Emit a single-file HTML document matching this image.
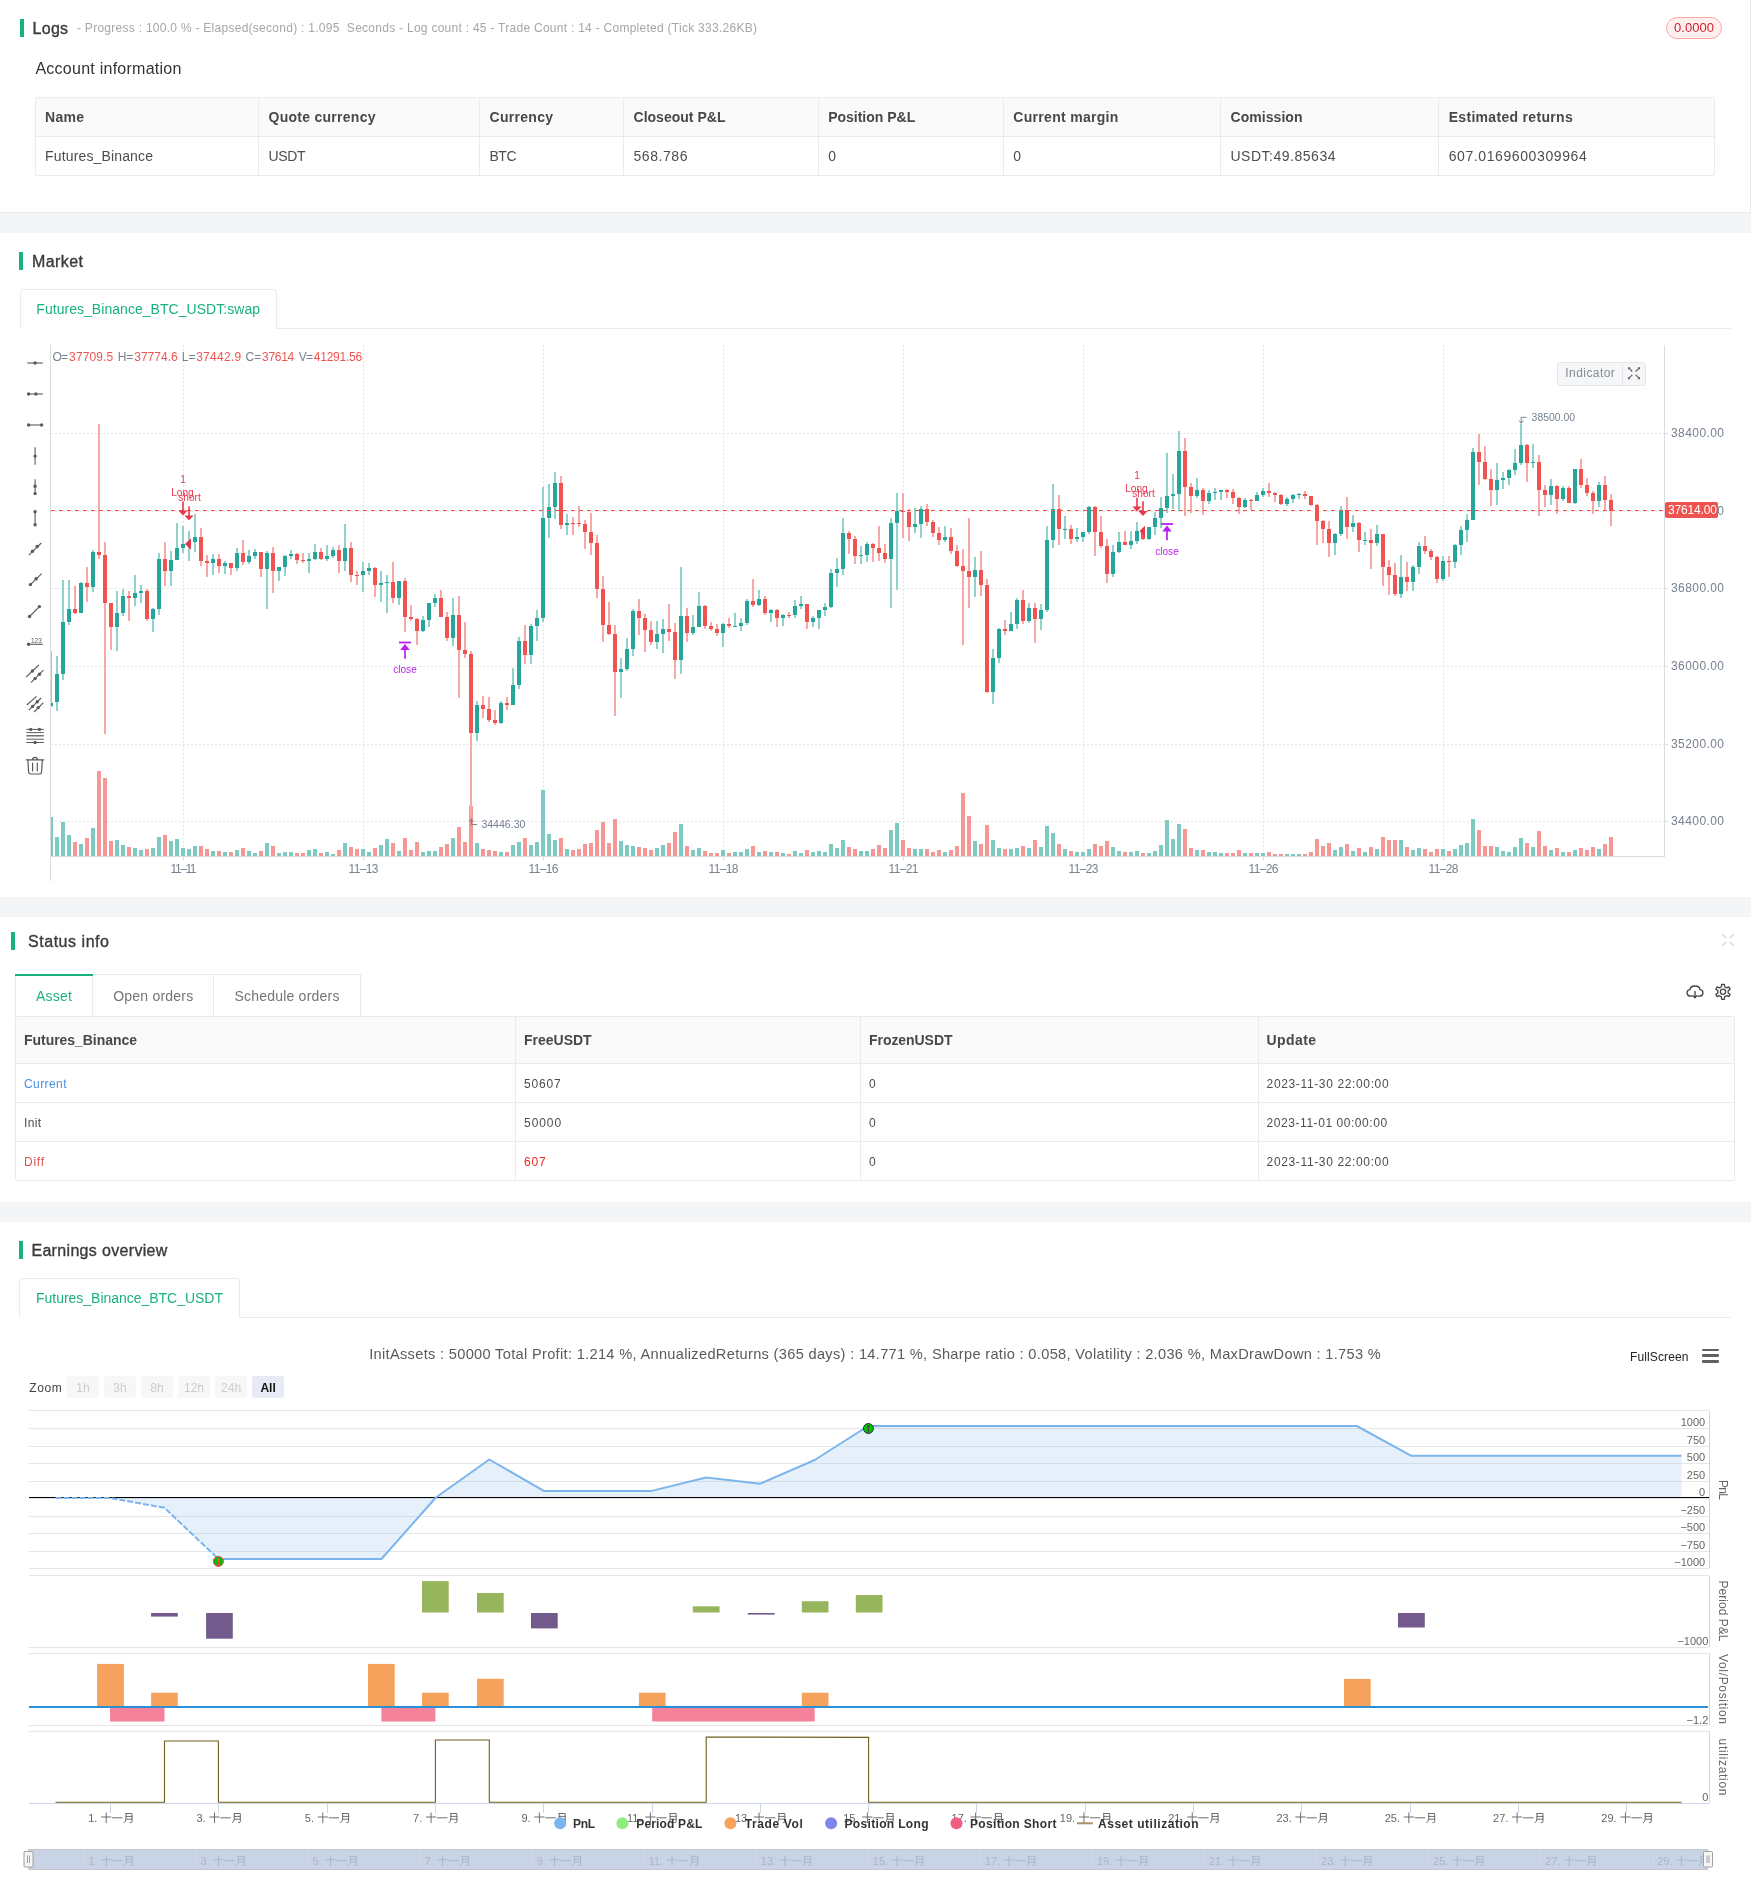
<!DOCTYPE html>
<html lang="en"><head><meta charset="utf-8"><title>Backtest result</title>
<style>html,body{margin:0;padding:0;background:#fff}body{position:relative;width:1751px;height:1899px;overflow:hidden;font-family:"Liberation Sans", sans-serif;color:#444}svg{position:absolute;left:0;top:0;overflow:visible}svg text{font-family:"Liberation Sans", sans-serif}</style>
</head><body><div id="page" style="position:absolute;left:0;top:0;width:1751px;height:1899px;will-change:transform">
<div style="position:absolute;left:0px;top:212px;width:1751px;height:21px;background:#f4f5f7;border-top:1px solid #ececec;box-sizing:border-box"></div>
<div style="position:absolute;left:0px;top:897px;width:1751px;height:20px;background:#f4f5f7"></div>
<div style="position:absolute;left:0px;top:1202px;width:1751px;height:20px;background:#f4f5f7"></div>
<div style="position:absolute;left:1750px;top:0px;width:1px;height:212px;background:#ececec"></div>
<div style="position:absolute;left:20px;top:19px;width:4px;height:18px;background:#19b27f"></div>
<span style="position:absolute;left:32.6px;top:20px;font-size:16px;line-height:17px;color:#3a3a3a;white-space:nowrap;letter-spacing:0.268px;-webkit-text-stroke:0.35px #3a3a3a;">Logs</span>
<span style="position:absolute;left:77px;top:21px;font-size:12px;line-height:14px;color:#a6a6a6;white-space:nowrap;letter-spacing:0.272px;">- Progress : 100.0 % - Elapsed(second) : 1.095 &nbsp;Seconds - Log count : 45 - Trade Count : 14 - Completed (Tick 333.26KB)</span>
<div style="position:absolute;left:1666px;top:17px;width:56px;height:22px;box-sizing:border-box;border:1px solid #ffa8a3;background:#fff0ef;border-radius:11px"></div>
<span style="position:absolute;left:1694.02px;top:20px;font-size:13px;line-height:15px;color:#cf2330;white-space:nowrap;letter-spacing:0.047px;transform:translateX(-50%);">0.0000</span>
<span style="position:absolute;left:35.4px;top:60px;font-size:16px;line-height:17px;color:#333;white-space:nowrap;letter-spacing:0.255px;">Account information</span>
<div style="position:absolute;left:35px;top:97px;width:1680px;height:79px;box-sizing:border-box;border:1px solid #ebebeb;border-radius:2px"></div>
<div style="position:absolute;left:36px;top:98px;width:1678px;height:38px;background:#fafafa"></div>
<div style="position:absolute;left:35px;top:136px;width:1680px;height:1px;background:#ebebeb"></div>
<div style="position:absolute;left:258px;top:97px;width:1px;height:79px;background:#ebebeb"></div>
<div style="position:absolute;left:479px;top:97px;width:1px;height:79px;background:#ebebeb"></div>
<div style="position:absolute;left:623px;top:97px;width:1px;height:79px;background:#ebebeb"></div>
<div style="position:absolute;left:818px;top:97px;width:1px;height:79px;background:#ebebeb"></div>
<div style="position:absolute;left:1003px;top:97px;width:1px;height:79px;background:#ebebeb"></div>
<div style="position:absolute;left:1220px;top:97px;width:1px;height:79px;background:#ebebeb"></div>
<div style="position:absolute;left:1438px;top:97px;width:1px;height:79px;background:#ebebeb"></div>
<span style="position:absolute;left:45px;top:109px;font-size:14px;line-height:16px;color:#484848;white-space:nowrap;font-weight:bold;letter-spacing:0.290px;">Name</span>
<span style="position:absolute;left:268.5px;top:109px;font-size:14px;line-height:16px;color:#484848;white-space:nowrap;font-weight:bold;letter-spacing:0.271px;">Quote currency</span>
<span style="position:absolute;left:489.5px;top:109px;font-size:14px;line-height:16px;color:#484848;white-space:nowrap;font-weight:bold;letter-spacing:0.290px;">Currency</span>
<span style="position:absolute;left:633.5px;top:109px;font-size:14px;line-height:16px;color:#484848;white-space:nowrap;font-weight:bold;letter-spacing:0.020px;">Closeout P&amp;L</span>
<span style="position:absolute;left:828.2px;top:109px;font-size:14px;line-height:16px;color:#484848;white-space:nowrap;font-weight:bold;letter-spacing:-0.010px;">Position P&amp;L</span>
<span style="position:absolute;left:1013.3px;top:109px;font-size:14px;line-height:16px;color:#484848;white-space:nowrap;font-weight:bold;letter-spacing:0.298px;">Current margin</span>
<span style="position:absolute;left:1230.5px;top:109px;font-size:14px;line-height:16px;color:#484848;white-space:nowrap;font-weight:bold;letter-spacing:0.054px;">Comission</span>
<span style="position:absolute;left:1448.7px;top:109px;font-size:14px;line-height:16px;color:#484848;white-space:nowrap;font-weight:bold;letter-spacing:0.310px;">Estimated returns</span>
<span style="position:absolute;left:45px;top:148px;font-size:14px;line-height:16px;color:#4d4d4d;white-space:nowrap;letter-spacing:0.154px;">Futures_Binance</span>
<span style="position:absolute;left:268.5px;top:148px;font-size:14px;line-height:16px;color:#4d4d4d;white-space:nowrap;letter-spacing:-0.370px;">USDT</span>
<span style="position:absolute;left:489.5px;top:148px;font-size:14px;line-height:16px;color:#4d4d4d;white-space:nowrap;letter-spacing:-0.500px;">BTC</span>
<span style="position:absolute;left:633.5px;top:148px;font-size:14px;line-height:16px;color:#4d4d4d;white-space:nowrap;letter-spacing:0.566px;">568.786</span>
<span style="position:absolute;left:828.2px;top:148px;font-size:14px;line-height:16px;color:#4d4d4d;white-space:nowrap;">0</span>
<span style="position:absolute;left:1013.3px;top:148px;font-size:14px;line-height:16px;color:#4d4d4d;white-space:nowrap;">0</span>
<span style="position:absolute;left:1230.5px;top:148px;font-size:14px;line-height:16px;color:#4d4d4d;white-space:nowrap;letter-spacing:0.513px;">USDT:49.85634</span>
<span style="position:absolute;left:1448.7px;top:148px;font-size:14px;line-height:16px;color:#4d4d4d;white-space:nowrap;letter-spacing:0.596px;">607.0169600309964</span>
<div style="position:absolute;left:19px;top:252px;width:4px;height:18px;background:#19b27f"></div>
<span style="position:absolute;left:32px;top:253px;font-size:16px;line-height:17px;color:#3a3a3a;white-space:nowrap;letter-spacing:0.420px;-webkit-text-stroke:0.35px #3a3a3a;">Market</span>
<div style="position:absolute;left:276.5px;top:328px;width:1454.5px;height:1px;background:#ebebeb"></div>
<div style="position:absolute;left:19.5px;top:289px;width:257.5px;height:40px;box-sizing:border-box;border:1px solid #ebebeb;border-bottom:none;border-radius:4px 4px 0 0;background:#fff"></div>
<span style="position:absolute;left:36.3px;top:301px;font-size:14px;line-height:16px;color:#19b27f;white-space:nowrap;letter-spacing:0.041px;">Futures_Binance_BTC_USDT:swap</span>
<div style="position:absolute;left:11px;top:932px;width:4px;height:18px;background:#19b27f"></div>
<span style="position:absolute;left:28px;top:933px;font-size:16px;line-height:17px;color:#3a3a3a;white-space:nowrap;letter-spacing:0.540px;-webkit-text-stroke:0.35px #3a3a3a;">Status info</span>
<div style="position:absolute;left:15px;top:974px;width:78px;height:43px;box-sizing:border-box;border:1px solid #ebebeb;background:#fff"></div>
<div style="position:absolute;left:92px;top:974px;width:122px;height:43px;box-sizing:border-box;border:1px solid #ebebeb;background:#fff"></div>
<div style="position:absolute;left:213px;top:974px;width:148px;height:43px;box-sizing:border-box;border:1px solid #ebebeb;background:#fff"></div>
<div style="position:absolute;left:15px;top:974px;width:78px;height:2px;background:#19b27f"></div>
<div style="position:absolute;left:16px;top:1016px;width:76px;height:1px;background:#fff"></div>
<span style="position:absolute;left:36px;top:988px;font-size:14px;line-height:16px;color:#19b27f;white-space:nowrap;letter-spacing:0.247px;">Asset</span>
<span style="position:absolute;left:113.2px;top:988px;font-size:14px;line-height:16px;color:#747474;white-space:nowrap;letter-spacing:0.218px;">Open orders</span>
<span style="position:absolute;left:234.4px;top:988px;font-size:14px;line-height:16px;color:#747474;white-space:nowrap;letter-spacing:0.218px;">Schedule orders</span>
<div style="position:absolute;left:15px;top:1016px;width:1720px;height:165px;box-sizing:border-box;border:1px solid #ebebeb;border-radius:2px"></div>
<div style="position:absolute;left:16px;top:1017px;width:1718px;height:46px;background:#fafafa"></div>
<div style="position:absolute;left:15px;top:1063px;width:1720px;height:1px;background:#ebebeb"></div>
<div style="position:absolute;left:15px;top:1102px;width:1720px;height:1px;background:#ebebeb"></div>
<div style="position:absolute;left:15px;top:1141px;width:1720px;height:1px;background:#ebebeb"></div>
<div style="position:absolute;left:515px;top:1016px;width:1px;height:165px;background:#ebebeb"></div>
<div style="position:absolute;left:860px;top:1016px;width:1px;height:165px;background:#ebebeb"></div>
<div style="position:absolute;left:1258px;top:1016px;width:1px;height:165px;background:#ebebeb"></div>
<span style="position:absolute;left:24px;top:1032px;font-size:14px;line-height:16px;color:#484848;white-space:nowrap;font-weight:bold;letter-spacing:-0.042px;">Futures_Binance</span>
<span style="position:absolute;left:524.1px;top:1032px;font-size:14px;line-height:16px;color:#484848;white-space:nowrap;font-weight:bold;letter-spacing:-0.026px;">FreeUSDT</span>
<span style="position:absolute;left:869px;top:1032px;font-size:14px;line-height:16px;color:#484848;white-space:nowrap;font-weight:bold;letter-spacing:-0.056px;">FrozenUSDT</span>
<span style="position:absolute;left:1266.6px;top:1032px;font-size:14px;line-height:16px;color:#484848;white-space:nowrap;font-weight:bold;letter-spacing:0.410px;">Update</span>
<span style="position:absolute;left:24px;top:1077px;font-size:12px;line-height:14px;color:#4a90e2;white-space:nowrap;letter-spacing:0.414px;">Current</span>
<span style="position:absolute;left:524.1px;top:1077px;font-size:12px;line-height:14px;color:#4d4d4d;white-space:nowrap;letter-spacing:0.783px;">50607</span>
<span style="position:absolute;left:869px;top:1077px;font-size:12px;line-height:14px;color:#4d4d4d;white-space:nowrap;">0</span>
<span style="position:absolute;left:1266.6px;top:1077px;font-size:12px;line-height:14px;color:#4d4d4d;white-space:nowrap;letter-spacing:0.637px;">2023-11-30 22:00:00</span>
<span style="position:absolute;left:24px;top:1116px;font-size:12px;line-height:14px;color:#4d4d4d;white-space:nowrap;letter-spacing:0.331px;">Init</span>
<span style="position:absolute;left:524.1px;top:1116px;font-size:12px;line-height:14px;color:#4d4d4d;white-space:nowrap;letter-spacing:0.908px;">50000</span>
<span style="position:absolute;left:869px;top:1116px;font-size:12px;line-height:14px;color:#4d4d4d;white-space:nowrap;">0</span>
<span style="position:absolute;left:1266.6px;top:1116px;font-size:12px;line-height:14px;color:#4d4d4d;white-space:nowrap;letter-spacing:0.553px;">2023-11-01 00:00:00</span>
<span style="position:absolute;left:24px;top:1155px;font-size:12px;line-height:14px;color:#d9534f;white-space:nowrap;letter-spacing:0.739px;">Diff</span>
<span style="position:absolute;left:524.1px;top:1155px;font-size:12px;line-height:14px;color:#f02525;white-space:nowrap;letter-spacing:0.739px;">607</span>
<span style="position:absolute;left:869px;top:1155px;font-size:12px;line-height:14px;color:#4d4d4d;white-space:nowrap;">0</span>
<span style="position:absolute;left:1266.6px;top:1155px;font-size:12px;line-height:14px;color:#4d4d4d;white-space:nowrap;letter-spacing:0.637px;">2023-11-30 22:00:00</span>
<div style="position:absolute;left:19px;top:1241px;width:4px;height:18px;background:#19b27f"></div>
<span style="position:absolute;left:31.4px;top:1242px;font-size:16px;line-height:17px;color:#3a3a3a;white-space:nowrap;letter-spacing:0.330px;-webkit-text-stroke:0.35px #3a3a3a;">Earnings overview</span>
<div style="position:absolute;left:239.5px;top:1317px;width:1491.5px;height:1px;background:#ebebeb"></div>
<div style="position:absolute;left:19px;top:1278px;width:220.5px;height:40px;box-sizing:border-box;border:1px solid #ebebeb;border-bottom:none;border-radius:4px 4px 0 0;background:#fff"></div>
<span style="position:absolute;left:36px;top:1290px;font-size:14px;line-height:16px;color:#19b27f;white-space:nowrap;letter-spacing:-0.023px;">Futures_Binance_BTC_USDT</span>
<svg width="1751" height="1899" viewBox="0 0 1751 1899" shape-rendering="crispEdges">
<line x1="51" y1="433.5" x2="1664" y2="433.5" stroke="#e4e4e4" stroke-width="1" stroke-dasharray="2 2"/>
<line x1="51" y1="588.5" x2="1664" y2="588.5" stroke="#e4e4e4" stroke-width="1" stroke-dasharray="2 2"/>
<line x1="51" y1="666.5" x2="1664" y2="666.5" stroke="#e4e4e4" stroke-width="1" stroke-dasharray="2 2"/>
<line x1="51" y1="744.5" x2="1664" y2="744.5" stroke="#e4e4e4" stroke-width="1" stroke-dasharray="2 2"/>
<line x1="51" y1="821.5" x2="1664" y2="821.5" stroke="#e4e4e4" stroke-width="1" stroke-dasharray="2 2"/>
<line x1="51" y1="511.5" x2="1664" y2="511.5" stroke="#e4e4e4" stroke-width="1" stroke-dasharray="2 2"/>
<line x1="183.5" y1="345" x2="183.5" y2="856" stroke="#e4e4e4" stroke-width="1" stroke-dasharray="2 2"/>
<line x1="183.5" y1="856" x2="183.5" y2="860" stroke="#dcdcdc" stroke-width="1"/>
<line x1="363.5" y1="345" x2="363.5" y2="856" stroke="#e4e4e4" stroke-width="1" stroke-dasharray="2 2"/>
<line x1="363.5" y1="856" x2="363.5" y2="860" stroke="#dcdcdc" stroke-width="1"/>
<line x1="543.5" y1="345" x2="543.5" y2="856" stroke="#e4e4e4" stroke-width="1" stroke-dasharray="2 2"/>
<line x1="543.5" y1="856" x2="543.5" y2="860" stroke="#dcdcdc" stroke-width="1"/>
<line x1="723.5" y1="345" x2="723.5" y2="856" stroke="#e4e4e4" stroke-width="1" stroke-dasharray="2 2"/>
<line x1="723.5" y1="856" x2="723.5" y2="860" stroke="#dcdcdc" stroke-width="1"/>
<line x1="903.5" y1="345" x2="903.5" y2="856" stroke="#e4e4e4" stroke-width="1" stroke-dasharray="2 2"/>
<line x1="903.5" y1="856" x2="903.5" y2="860" stroke="#dcdcdc" stroke-width="1"/>
<line x1="1083.5" y1="345" x2="1083.5" y2="856" stroke="#e4e4e4" stroke-width="1" stroke-dasharray="2 2"/>
<line x1="1083.5" y1="856" x2="1083.5" y2="860" stroke="#dcdcdc" stroke-width="1"/>
<line x1="1263.5" y1="345" x2="1263.5" y2="856" stroke="#e4e4e4" stroke-width="1" stroke-dasharray="2 2"/>
<line x1="1263.5" y1="856" x2="1263.5" y2="860" stroke="#dcdcdc" stroke-width="1"/>
<line x1="1443.5" y1="345" x2="1443.5" y2="856" stroke="#e4e4e4" stroke-width="1" stroke-dasharray="2 2"/>
<line x1="1443.5" y1="856" x2="1443.5" y2="860" stroke="#dcdcdc" stroke-width="1"/>
<clipPath id="kc"><rect x="51" y="345" width="1613" height="511"/></clipPath>
<g clip-path="url(#kc)">
<rect x="49" y="816.94" width="4" height="39.06" fill="#7dcac2"/>
<rect x="50" y="650.72" width="2" height="56.54" fill="#92d2cc"/>
<rect x="49" y="702.63" width="4" height="3.77" fill="#26a69a"/>
<rect x="55" y="837.04" width="4" height="18.96" fill="#7dcac2"/>
<rect x="56" y="656.2" width="2" height="54.48" fill="#92d2cc"/>
<rect x="55" y="673.85" width="4" height="27.93" fill="#26a69a"/>
<rect x="61" y="821.73" width="4" height="34.27" fill="#7dcac2"/>
<rect x="62" y="579.96" width="2" height="99.89" fill="#92d2cc"/>
<rect x="61" y="621.93" width="4" height="51.91" fill="#26a69a"/>
<rect x="67" y="834.75" width="4" height="21.25" fill="#7dcac2"/>
<rect x="68" y="579.96" width="2" height="44.72" fill="#92d2cc"/>
<rect x="67" y="609.09" width="4" height="12.85" fill="#26a69a"/>
<rect x="73" y="842.29" width="4" height="13.71" fill="#f59795"/>
<rect x="74" y="585.96" width="2" height="27.93" fill="#f7a9a7"/>
<rect x="73" y="609.09" width="4" height="3.94" fill="#ef5350"/>
<rect x="79" y="843.89" width="4" height="12.11" fill="#7dcac2"/>
<rect x="80" y="581.84" width="2" height="31.18" fill="#92d2cc"/>
<rect x="79" y="583.04" width="4" height="29.64" fill="#26a69a"/>
<rect x="85" y="837.5" width="4" height="18.5" fill="#f59795"/>
<rect x="86" y="566.94" width="2" height="34.95" fill="#f7a9a7"/>
<rect x="85" y="583.04" width="4" height="3.94" fill="#ef5350"/>
<rect x="91" y="828.36" width="4" height="27.64" fill="#7dcac2"/>
<rect x="92" y="550.15" width="2" height="41.8" fill="#92d2cc"/>
<rect x="91" y="551.86" width="4" height="34.95" fill="#26a69a"/>
<rect x="97" y="770.56" width="4" height="85.44" fill="#f59795"/>
<rect x="98" y="424.05" width="2" height="135.01" fill="#f7a9a7"/>
<rect x="97" y="551.86" width="4" height="2.91" fill="#ef5350"/>
<rect x="103" y="778.1" width="4" height="77.9" fill="#f59795"/>
<rect x="104" y="541.92" width="2" height="191.89" fill="#f7a9a7"/>
<rect x="103" y="554.77" width="4" height="47.97" fill="#ef5350"/>
<rect x="109" y="840.92" width="4" height="15.08" fill="#f59795"/>
<rect x="110" y="602.75" width="2" height="47.12" fill="#f7a9a7"/>
<rect x="109" y="602.75" width="4" height="24.33" fill="#ef5350"/>
<rect x="115" y="839.78" width="4" height="16.22" fill="#7dcac2"/>
<rect x="116" y="591.1" width="2" height="59.62" fill="#92d2cc"/>
<rect x="115" y="613.03" width="4" height="14.05" fill="#26a69a"/>
<rect x="121" y="844.81" width="4" height="11.19" fill="#7dcac2"/>
<rect x="122" y="589.04" width="2" height="26.56" fill="#92d2cc"/>
<rect x="121" y="596.24" width="4" height="16.79" fill="#26a69a"/>
<rect x="127" y="846.63" width="4" height="9.37" fill="#f59795"/>
<rect x="128" y="590.75" width="2" height="30.33" fill="#f7a9a7"/>
<rect x="127" y="596.24" width="4" height="1.71" fill="#ef5350"/>
<rect x="133" y="847.78" width="4" height="8.22" fill="#7dcac2"/>
<rect x="134" y="574.99" width="2" height="30.84" fill="#92d2cc"/>
<rect x="133" y="592.98" width="4" height="4.97" fill="#26a69a"/>
<rect x="139" y="849.83" width="4" height="6.17" fill="#7dcac2"/>
<rect x="140" y="584.76" width="2" height="17.99" fill="#92d2cc"/>
<rect x="139" y="591.1" width="4" height="1.88" fill="#26a69a"/>
<rect x="145" y="848.92" width="4" height="7.08" fill="#f59795"/>
<rect x="146" y="589.04" width="2" height="32.04" fill="#f7a9a7"/>
<rect x="145" y="591.1" width="4" height="27.93" fill="#ef5350"/>
<rect x="151" y="847.78" width="4" height="8.22" fill="#7dcac2"/>
<rect x="152" y="607.89" width="2" height="23.99" fill="#92d2cc"/>
<rect x="151" y="608.74" width="4" height="10.28" fill="#26a69a"/>
<rect x="157" y="836.81" width="4" height="19.19" fill="#7dcac2"/>
<rect x="158" y="553.06" width="2" height="61.68" fill="#92d2cc"/>
<rect x="157" y="559.06" width="4" height="49.69" fill="#26a69a"/>
<rect x="163" y="834.53" width="4" height="21.47" fill="#f59795"/>
<rect x="164" y="541.92" width="2" height="44.03" fill="#f7a9a7"/>
<rect x="163" y="559.06" width="4" height="11.65" fill="#ef5350"/>
<rect x="169" y="840.92" width="4" height="15.08" fill="#7dcac2"/>
<rect x="170" y="551" width="2" height="34.95" fill="#92d2cc"/>
<rect x="169" y="560.08" width="4" height="10.62" fill="#26a69a"/>
<rect x="175" y="838.87" width="4" height="17.13" fill="#7dcac2"/>
<rect x="176" y="523.08" width="2" height="37.01" fill="#92d2cc"/>
<rect x="175" y="547.92" width="4" height="12.16" fill="#26a69a"/>
<rect x="181" y="848.46" width="4" height="7.54" fill="#7dcac2"/>
<rect x="182" y="525.99" width="2" height="26.56" fill="#92d2cc"/>
<rect x="181" y="544.15" width="4" height="3.77" fill="#26a69a"/>
<rect x="187" y="848.92" width="4" height="7.08" fill="#7dcac2"/>
<rect x="188" y="530.79" width="2" height="29.98" fill="#92d2cc"/>
<rect x="187" y="541.92" width="4" height="2.23" fill="#26a69a"/>
<rect x="193" y="845.95" width="4" height="10.05" fill="#7dcac2"/>
<rect x="194" y="514" width="2" height="37.86" fill="#92d2cc"/>
<rect x="193" y="537.13" width="4" height="4.8" fill="#26a69a"/>
<rect x="199" y="845.95" width="4" height="10.05" fill="#f59795"/>
<rect x="200" y="528.22" width="2" height="37.69" fill="#f7a9a7"/>
<rect x="199" y="537.13" width="4" height="23.64" fill="#ef5350"/>
<rect x="205" y="848.92" width="4" height="7.08" fill="#f59795"/>
<rect x="206" y="555.12" width="2" height="21.59" fill="#f7a9a7"/>
<rect x="205" y="561.11" width="4" height="1.71" fill="#ef5350"/>
<rect x="211" y="850.97" width="4" height="5.03" fill="#7dcac2"/>
<rect x="212" y="553.92" width="2" height="20.9" fill="#92d2cc"/>
<rect x="211" y="559.06" width="4" height="3.77" fill="#26a69a"/>
<rect x="217" y="851.43" width="4" height="4.57" fill="#f59795"/>
<rect x="218" y="553.92" width="2" height="18.85" fill="#f7a9a7"/>
<rect x="217" y="559.06" width="4" height="6.85" fill="#ef5350"/>
<rect x="223" y="851.66" width="4" height="4.34" fill="#7dcac2"/>
<rect x="224" y="561.11" width="2" height="12.85" fill="#92d2cc"/>
<rect x="223" y="563" width="4" height="2.91" fill="#26a69a"/>
<rect x="229" y="852.12" width="4" height="3.88" fill="#f59795"/>
<rect x="230" y="563" width="2" height="11.82" fill="#f7a9a7"/>
<rect x="229" y="563" width="4" height="4.8" fill="#ef5350"/>
<rect x="235" y="850.06" width="4" height="5.94" fill="#7dcac2"/>
<rect x="236" y="547.92" width="2" height="23.13" fill="#92d2cc"/>
<rect x="235" y="553.06" width="4" height="14.73" fill="#26a69a"/>
<rect x="241" y="848.23" width="4" height="7.77" fill="#f59795"/>
<rect x="242" y="540.21" width="2" height="24.5" fill="#f7a9a7"/>
<rect x="241" y="553.06" width="4" height="8.91" fill="#ef5350"/>
<rect x="247" y="850.97" width="4" height="5.03" fill="#7dcac2"/>
<rect x="248" y="549.98" width="2" height="13.88" fill="#92d2cc"/>
<rect x="247" y="555.97" width="4" height="6" fill="#26a69a"/>
<rect x="253" y="853.03" width="4" height="2.97" fill="#7dcac2"/>
<rect x="254" y="549.12" width="2" height="9.59" fill="#92d2cc"/>
<rect x="253" y="551.86" width="4" height="4.11" fill="#26a69a"/>
<rect x="259" y="850.75" width="4" height="5.25" fill="#f59795"/>
<rect x="260" y="551.86" width="2" height="24.84" fill="#f7a9a7"/>
<rect x="259" y="551.86" width="4" height="16.96" fill="#ef5350"/>
<rect x="265" y="843.44" width="4" height="12.56" fill="#7dcac2"/>
<rect x="266" y="550.83" width="2" height="57.91" fill="#92d2cc"/>
<rect x="265" y="553.06" width="4" height="15.76" fill="#26a69a"/>
<rect x="271" y="846.18" width="4" height="9.82" fill="#f59795"/>
<rect x="272" y="547.06" width="2" height="45.92" fill="#f7a9a7"/>
<rect x="271" y="553.06" width="4" height="17.65" fill="#ef5350"/>
<rect x="277" y="852.8" width="4" height="3.2" fill="#7dcac2"/>
<rect x="278" y="566.77" width="2" height="14.05" fill="#92d2cc"/>
<rect x="277" y="567.11" width="4" height="3.6" fill="#26a69a"/>
<rect x="283" y="851.89" width="4" height="4.11" fill="#7dcac2"/>
<rect x="284" y="555.29" width="2" height="20.56" fill="#92d2cc"/>
<rect x="283" y="555.97" width="4" height="11.14" fill="#26a69a"/>
<rect x="289" y="851.89" width="4" height="4.11" fill="#7dcac2"/>
<rect x="290" y="549.98" width="2" height="8.74" fill="#92d2cc"/>
<rect x="289" y="554.26" width="4" height="1.71" fill="#26a69a"/>
<rect x="295" y="852.8" width="4" height="3.2" fill="#f59795"/>
<rect x="296" y="553.06" width="2" height="10.79" fill="#f7a9a7"/>
<rect x="295" y="554.26" width="4" height="5.65" fill="#ef5350"/>
<rect x="301" y="853.03" width="4" height="2.97" fill="#f59795"/>
<rect x="302" y="553.06" width="2" height="9.77" fill="#f7a9a7"/>
<rect x="301" y="559.91" width="4" height="1.2" fill="#ef5350"/>
<rect x="307" y="850.29" width="4" height="5.71" fill="#7dcac2"/>
<rect x="308" y="553.06" width="2" height="19.7" fill="#92d2cc"/>
<rect x="307" y="559.06" width="4" height="2.06" fill="#26a69a"/>
<rect x="313" y="849.15" width="4" height="6.85" fill="#7dcac2"/>
<rect x="314" y="543.98" width="2" height="15.93" fill="#92d2cc"/>
<rect x="313" y="551.86" width="4" height="7.2" fill="#26a69a"/>
<rect x="319" y="853.03" width="4" height="2.97" fill="#f59795"/>
<rect x="320" y="547.92" width="2" height="11.99" fill="#f7a9a7"/>
<rect x="319" y="551.86" width="4" height="6.85" fill="#ef5350"/>
<rect x="325" y="851.89" width="4" height="4.11" fill="#7dcac2"/>
<rect x="326" y="545.01" width="2" height="15.76" fill="#92d2cc"/>
<rect x="325" y="555.97" width="4" height="2.74" fill="#26a69a"/>
<rect x="331" y="853.72" width="4" height="2.28" fill="#7dcac2"/>
<rect x="332" y="547.06" width="2" height="10.79" fill="#92d2cc"/>
<rect x="331" y="549.98" width="4" height="6" fill="#26a69a"/>
<rect x="337" y="849.83" width="4" height="6.17" fill="#f59795"/>
<rect x="338" y="545.06" width="2" height="27.76" fill="#f7a9a7"/>
<rect x="337" y="550.03" width="4" height="10.79" fill="#ef5350"/>
<rect x="343" y="843.44" width="4" height="12.56" fill="#7dcac2"/>
<rect x="344" y="523.99" width="2" height="46.77" fill="#92d2cc"/>
<rect x="343" y="547.97" width="4" height="12.85" fill="#26a69a"/>
<rect x="349" y="846.86" width="4" height="9.14" fill="#f59795"/>
<rect x="350" y="541.98" width="2" height="39.92" fill="#f7a9a7"/>
<rect x="349" y="547.97" width="4" height="26.9" fill="#ef5350"/>
<rect x="355" y="848.69" width="4" height="7.31" fill="#f59795"/>
<rect x="356" y="570.76" width="2" height="14.05" fill="#f7a9a7"/>
<rect x="355" y="574.87" width="4" height="1.03" fill="#ef5350"/>
<rect x="361" y="849.15" width="4" height="6.85" fill="#7dcac2"/>
<rect x="362" y="561.68" width="2" height="29.98" fill="#92d2cc"/>
<rect x="361" y="571.1" width="4" height="3.77" fill="#26a69a"/>
<rect x="367" y="851.89" width="4" height="4.11" fill="#7dcac2"/>
<rect x="368" y="563.05" width="2" height="11.82" fill="#92d2cc"/>
<rect x="367" y="568.02" width="4" height="3.08" fill="#26a69a"/>
<rect x="373" y="848" width="4" height="8" fill="#f59795"/>
<rect x="374" y="566.82" width="2" height="29.98" fill="#f7a9a7"/>
<rect x="373" y="568.02" width="4" height="16.79" fill="#ef5350"/>
<rect x="379" y="844.81" width="4" height="11.19" fill="#7dcac2"/>
<rect x="380" y="570.76" width="2" height="31.18" fill="#92d2cc"/>
<rect x="379" y="583.09" width="4" height="1.71" fill="#26a69a"/>
<rect x="385" y="838.87" width="4" height="17.13" fill="#7dcac2"/>
<rect x="386" y="574.87" width="2" height="38.21" fill="#92d2cc"/>
<rect x="385" y="582.07" width="4" height="1.03" fill="#26a69a"/>
<rect x="391" y="843.21" width="4" height="12.79" fill="#f59795"/>
<rect x="392" y="562.02" width="2" height="40.95" fill="#f7a9a7"/>
<rect x="391" y="582.07" width="4" height="15.76" fill="#ef5350"/>
<rect x="397" y="850.97" width="4" height="5.03" fill="#7dcac2"/>
<rect x="398" y="580.87" width="2" height="23.99" fill="#92d2cc"/>
<rect x="397" y="580.87" width="4" height="16.96" fill="#26a69a"/>
<rect x="403" y="838.41" width="4" height="17.59" fill="#f59795"/>
<rect x="404" y="577.96" width="2" height="53.97" fill="#f7a9a7"/>
<rect x="403" y="580.87" width="4" height="36.15" fill="#ef5350"/>
<rect x="409" y="849.83" width="4" height="6.17" fill="#f59795"/>
<rect x="410" y="604.85" width="2" height="16.1" fill="#f7a9a7"/>
<rect x="409" y="617.02" width="4" height="1.71" fill="#ef5350"/>
<rect x="415" y="842.07" width="4" height="13.93" fill="#f59795"/>
<rect x="416" y="617.87" width="2" height="26.9" fill="#f7a9a7"/>
<rect x="415" y="618.73" width="4" height="12.34" fill="#ef5350"/>
<rect x="421" y="852.12" width="4" height="3.88" fill="#7dcac2"/>
<rect x="422" y="615.99" width="2" height="15.93" fill="#92d2cc"/>
<rect x="421" y="619.93" width="4" height="11.14" fill="#26a69a"/>
<rect x="427" y="850.97" width="4" height="5.03" fill="#7dcac2"/>
<rect x="428" y="602.97" width="2" height="23.99" fill="#92d2cc"/>
<rect x="427" y="602.97" width="4" height="16.96" fill="#26a69a"/>
<rect x="433" y="850.97" width="4" height="5.03" fill="#7dcac2"/>
<rect x="434" y="593.89" width="2" height="13.02" fill="#92d2cc"/>
<rect x="433" y="597.83" width="4" height="5.14" fill="#26a69a"/>
<rect x="439" y="846.86" width="4" height="9.14" fill="#f59795"/>
<rect x="440" y="589.95" width="2" height="27.07" fill="#f7a9a7"/>
<rect x="439" y="597.83" width="4" height="19.19" fill="#ef5350"/>
<rect x="445" y="843.89" width="4" height="12.11" fill="#f59795"/>
<rect x="446" y="611.88" width="2" height="29.13" fill="#f7a9a7"/>
<rect x="445" y="617.02" width="4" height="20.9" fill="#ef5350"/>
<rect x="451" y="837.5" width="4" height="18.5" fill="#7dcac2"/>
<rect x="452" y="597.83" width="2" height="48.14" fill="#92d2cc"/>
<rect x="451" y="614.96" width="4" height="22.96" fill="#26a69a"/>
<rect x="457" y="826.76" width="4" height="29.24" fill="#f59795"/>
<rect x="458" y="595.94" width="2" height="101.94" fill="#f7a9a7"/>
<rect x="457" y="614.96" width="4" height="34.95" fill="#ef5350"/>
<rect x="463" y="842.07" width="4" height="13.93" fill="#f59795"/>
<rect x="464" y="621.99" width="2" height="35.98" fill="#f7a9a7"/>
<rect x="463" y="649.91" width="4" height="3.94" fill="#ef5350"/>
<rect x="469" y="805.51" width="4" height="50.49" fill="#f59795"/>
<rect x="470" y="650.94" width="2" height="166.02" fill="#f7a9a7"/>
<rect x="469" y="653.85" width="4" height="79.15" fill="#ef5350"/>
<rect x="475" y="843.21" width="4" height="12.79" fill="#7dcac2"/>
<rect x="476" y="700.8" width="2" height="40.09" fill="#92d2cc"/>
<rect x="475" y="704.91" width="4" height="28.1" fill="#26a69a"/>
<rect x="481" y="848.92" width="4" height="7.08" fill="#f59795"/>
<rect x="482" y="695.83" width="2" height="22.1" fill="#f7a9a7"/>
<rect x="481" y="704.91" width="4" height="3.94" fill="#ef5350"/>
<rect x="487" y="849.6" width="4" height="6.4" fill="#f59795"/>
<rect x="488" y="696.86" width="2" height="25.01" fill="#f7a9a7"/>
<rect x="487" y="708.85" width="4" height="10.97" fill="#ef5350"/>
<rect x="493" y="850.75" width="4" height="5.25" fill="#f59795"/>
<rect x="494" y="709.88" width="2" height="15.08" fill="#f7a9a7"/>
<rect x="493" y="719.82" width="4" height="3.08" fill="#ef5350"/>
<rect x="499" y="851.89" width="4" height="4.11" fill="#7dcac2"/>
<rect x="500" y="700.8" width="2" height="23.13" fill="#92d2cc"/>
<rect x="499" y="702.85" width="4" height="20.05" fill="#26a69a"/>
<rect x="505" y="851.89" width="4" height="4.11" fill="#f59795"/>
<rect x="506" y="696.86" width="2" height="13.02" fill="#f7a9a7"/>
<rect x="505" y="702.85" width="4" height="2.06" fill="#ef5350"/>
<rect x="511" y="844.58" width="4" height="11.42" fill="#7dcac2"/>
<rect x="512" y="667.9" width="2" height="37.01" fill="#92d2cc"/>
<rect x="511" y="684.86" width="4" height="20.05" fill="#26a69a"/>
<rect x="517" y="841.61" width="4" height="14.39" fill="#7dcac2"/>
<rect x="518" y="636.89" width="2" height="51.91" fill="#92d2cc"/>
<rect x="517" y="641" width="4" height="43.86" fill="#26a69a"/>
<rect x="523" y="838.41" width="4" height="17.59" fill="#f59795"/>
<rect x="524" y="625.07" width="2" height="38.89" fill="#f7a9a7"/>
<rect x="523" y="641" width="4" height="13.88" fill="#ef5350"/>
<rect x="529" y="844.58" width="4" height="11.42" fill="#7dcac2"/>
<rect x="530" y="623.87" width="2" height="40.09" fill="#92d2cc"/>
<rect x="529" y="625.93" width="4" height="28.95" fill="#26a69a"/>
<rect x="535" y="842.07" width="4" height="13.93" fill="#7dcac2"/>
<rect x="536" y="609.99" width="2" height="31.01" fill="#92d2cc"/>
<rect x="535" y="617.87" width="4" height="8.05" fill="#26a69a"/>
<rect x="541" y="789.52" width="4" height="66.48" fill="#7dcac2"/>
<rect x="542" y="486.6" width="2" height="135.52" fill="#92d2cc"/>
<rect x="541" y="517.96" width="4" height="100.23" fill="#26a69a"/>
<rect x="547" y="833.84" width="4" height="22.16" fill="#7dcac2"/>
<rect x="548" y="484.03" width="2" height="53.97" fill="#92d2cc"/>
<rect x="547" y="506.82" width="4" height="11.14" fill="#26a69a"/>
<rect x="553" y="840.47" width="4" height="15.53" fill="#7dcac2"/>
<rect x="554" y="472.04" width="2" height="46.94" fill="#92d2cc"/>
<rect x="553" y="483" width="4" height="23.81" fill="#26a69a"/>
<rect x="559" y="837.95" width="4" height="18.05" fill="#f59795"/>
<rect x="560" y="475.98" width="2" height="52.94" fill="#f7a9a7"/>
<rect x="559" y="483" width="4" height="41.8" fill="#ef5350"/>
<rect x="565" y="849.15" width="4" height="6.85" fill="#7dcac2"/>
<rect x="566" y="514.01" width="2" height="20.9" fill="#92d2cc"/>
<rect x="565" y="523.09" width="4" height="1.71" fill="#26a69a"/>
<rect x="571" y="850.06" width="4" height="5.94" fill="#f59795"/>
<rect x="572" y="517.1" width="2" height="17.82" fill="#f7a9a7"/>
<rect x="571" y="523.09" width="4" height="1" fill="#ef5350"/>
<rect x="577" y="848.92" width="4" height="7.08" fill="#f59795"/>
<rect x="578" y="505.96" width="2" height="20.9" fill="#f7a9a7"/>
<rect x="577" y="523.09" width="4" height="1" fill="#ef5350"/>
<rect x="583" y="843.66" width="4" height="12.34" fill="#f59795"/>
<rect x="584" y="520.01" width="2" height="28.95" fill="#f7a9a7"/>
<rect x="583" y="523.95" width="4" height="8.05" fill="#ef5350"/>
<rect x="589" y="842.98" width="4" height="13.02" fill="#f59795"/>
<rect x="590" y="512.99" width="2" height="41.98" fill="#f7a9a7"/>
<rect x="589" y="532" width="4" height="10.97" fill="#ef5350"/>
<rect x="595" y="829.96" width="4" height="26.04" fill="#f59795"/>
<rect x="596" y="534.92" width="2" height="63.05" fill="#f7a9a7"/>
<rect x="595" y="542.97" width="4" height="45.92" fill="#ef5350"/>
<rect x="601" y="821.73" width="4" height="34.27" fill="#f59795"/>
<rect x="602" y="576.04" width="2" height="65.96" fill="#f7a9a7"/>
<rect x="601" y="588.89" width="4" height="36.15" fill="#ef5350"/>
<rect x="607" y="842.98" width="4" height="13.02" fill="#f59795"/>
<rect x="608" y="601.91" width="2" height="33.07" fill="#f7a9a7"/>
<rect x="607" y="625.04" width="4" height="8.91" fill="#ef5350"/>
<rect x="613" y="818.99" width="4" height="37.01" fill="#f59795"/>
<rect x="614" y="625.04" width="2" height="90.8" fill="#f7a9a7"/>
<rect x="613" y="633.95" width="4" height="38.04" fill="#ef5350"/>
<rect x="619" y="840.92" width="4" height="15.08" fill="#7dcac2"/>
<rect x="620" y="657.93" width="2" height="39.92" fill="#92d2cc"/>
<rect x="619" y="669.07" width="4" height="2.91" fill="#26a69a"/>
<rect x="625" y="845.26" width="4" height="10.74" fill="#7dcac2"/>
<rect x="626" y="637.89" width="2" height="33.07" fill="#92d2cc"/>
<rect x="625" y="649.02" width="4" height="20.05" fill="#26a69a"/>
<rect x="631" y="845.72" width="4" height="10.28" fill="#7dcac2"/>
<rect x="632" y="608.93" width="2" height="47.12" fill="#92d2cc"/>
<rect x="631" y="610.99" width="4" height="38.04" fill="#26a69a"/>
<rect x="637" y="846.86" width="4" height="9.14" fill="#f59795"/>
<rect x="638" y="598.99" width="2" height="35.98" fill="#f7a9a7"/>
<rect x="637" y="610.99" width="4" height="7.02" fill="#ef5350"/>
<rect x="643" y="847.78" width="4" height="8.22" fill="#f59795"/>
<rect x="644" y="614.07" width="2" height="38.04" fill="#f7a9a7"/>
<rect x="643" y="618.01" width="4" height="11.99" fill="#ef5350"/>
<rect x="649" y="849.6" width="4" height="6.4" fill="#f59795"/>
<rect x="650" y="621.1" width="2" height="23.81" fill="#f7a9a7"/>
<rect x="649" y="630" width="4" height="11.99" fill="#ef5350"/>
<rect x="655" y="847.78" width="4" height="8.22" fill="#7dcac2"/>
<rect x="656" y="621.1" width="2" height="27.93" fill="#92d2cc"/>
<rect x="655" y="633.95" width="4" height="8.05" fill="#26a69a"/>
<rect x="661" y="845.03" width="4" height="10.97" fill="#7dcac2"/>
<rect x="662" y="619.04" width="2" height="33.92" fill="#92d2cc"/>
<rect x="661" y="628.98" width="4" height="4.97" fill="#26a69a"/>
<rect x="667" y="842.75" width="4" height="13.25" fill="#f59795"/>
<rect x="668" y="603.96" width="2" height="37.01" fill="#f7a9a7"/>
<rect x="667" y="628.98" width="4" height="2.91" fill="#ef5350"/>
<rect x="673" y="831.79" width="4" height="24.21" fill="#f59795"/>
<rect x="674" y="622.98" width="2" height="55.85" fill="#f7a9a7"/>
<rect x="673" y="631.89" width="4" height="28.1" fill="#ef5350"/>
<rect x="679" y="823.79" width="4" height="32.21" fill="#7dcac2"/>
<rect x="680" y="566.96" width="2" height="106.91" fill="#92d2cc"/>
<rect x="679" y="615.96" width="4" height="44.03" fill="#26a69a"/>
<rect x="685" y="845.95" width="4" height="10.05" fill="#f59795"/>
<rect x="686" y="607.9" width="2" height="34.09" fill="#f7a9a7"/>
<rect x="685" y="615.96" width="4" height="16.96" fill="#ef5350"/>
<rect x="691" y="849.6" width="4" height="6.4" fill="#7dcac2"/>
<rect x="692" y="614.93" width="2" height="20.05" fill="#92d2cc"/>
<rect x="691" y="626.92" width="4" height="6" fill="#26a69a"/>
<rect x="697" y="848.23" width="4" height="7.77" fill="#7dcac2"/>
<rect x="698" y="591.97" width="2" height="34.95" fill="#92d2cc"/>
<rect x="697" y="605.85" width="4" height="21.07" fill="#26a69a"/>
<rect x="703" y="850.75" width="4" height="5.25" fill="#f59795"/>
<rect x="704" y="604.99" width="2" height="23.99" fill="#f7a9a7"/>
<rect x="703" y="605.85" width="4" height="20.05" fill="#ef5350"/>
<rect x="709" y="853.49" width="4" height="2.51" fill="#f59795"/>
<rect x="710" y="621.95" width="2" height="8.91" fill="#f7a9a7"/>
<rect x="709" y="625.89" width="4" height="3.08" fill="#ef5350"/>
<rect x="715" y="853.03" width="4" height="2.97" fill="#f59795"/>
<rect x="716" y="624.01" width="2" height="11.99" fill="#f7a9a7"/>
<rect x="715" y="628.98" width="4" height="3.94" fill="#ef5350"/>
<rect x="721" y="849.83" width="4" height="6.17" fill="#7dcac2"/>
<rect x="722" y="622.98" width="2" height="23.99" fill="#92d2cc"/>
<rect x="721" y="624.01" width="4" height="8.91" fill="#26a69a"/>
<rect x="727" y="852.8" width="4" height="3.2" fill="#f59795"/>
<rect x="728" y="618.01" width="2" height="9.94" fill="#f7a9a7"/>
<rect x="727" y="624.01" width="4" height="1.88" fill="#ef5350"/>
<rect x="733" y="851.89" width="4" height="4.11" fill="#7dcac2"/>
<rect x="734" y="613.04" width="2" height="13.88" fill="#92d2cc"/>
<rect x="733" y="625.89" width="4" height="1" fill="#26a69a"/>
<rect x="739" y="852.12" width="4" height="3.88" fill="#7dcac2"/>
<rect x="740" y="618.01" width="2" height="12.85" fill="#92d2cc"/>
<rect x="739" y="622.98" width="4" height="2.91" fill="#26a69a"/>
<rect x="745" y="848.92" width="4" height="7.08" fill="#7dcac2"/>
<rect x="746" y="598.99" width="2" height="26.04" fill="#92d2cc"/>
<rect x="745" y="600.88" width="4" height="22.1" fill="#26a69a"/>
<rect x="751" y="845.95" width="4" height="10.05" fill="#f59795"/>
<rect x="752" y="578.95" width="2" height="27.93" fill="#f7a9a7"/>
<rect x="751" y="600.88" width="4" height="4.11" fill="#ef5350"/>
<rect x="757" y="852.34" width="4" height="3.66" fill="#7dcac2"/>
<rect x="758" y="589.91" width="2" height="15.93" fill="#92d2cc"/>
<rect x="757" y="598.99" width="4" height="6" fill="#26a69a"/>
<rect x="763" y="850.97" width="4" height="5.03" fill="#f59795"/>
<rect x="764" y="595.91" width="2" height="19.02" fill="#f7a9a7"/>
<rect x="763" y="598.99" width="4" height="14.05" fill="#ef5350"/>
<rect x="769" y="852.12" width="4" height="3.88" fill="#7dcac2"/>
<rect x="770" y="608.93" width="2" height="13.02" fill="#92d2cc"/>
<rect x="769" y="609.96" width="4" height="3.08" fill="#26a69a"/>
<rect x="775" y="851.89" width="4" height="4.11" fill="#f59795"/>
<rect x="776" y="608.93" width="2" height="17.99" fill="#f7a9a7"/>
<rect x="775" y="609.96" width="4" height="8.05" fill="#ef5350"/>
<rect x="781" y="853.26" width="4" height="2.74" fill="#7dcac2"/>
<rect x="782" y="614.07" width="2" height="11.82" fill="#92d2cc"/>
<rect x="781" y="614.93" width="4" height="3.08" fill="#26a69a"/>
<rect x="787" y="853.72" width="4" height="2.28" fill="#f59795"/>
<rect x="788" y="612.02" width="2" height="6" fill="#f7a9a7"/>
<rect x="787" y="614.93" width="4" height="1.03" fill="#ef5350"/>
<rect x="793" y="850.97" width="4" height="5.03" fill="#7dcac2"/>
<rect x="794" y="599.85" width="2" height="18.16" fill="#92d2cc"/>
<rect x="793" y="605.85" width="4" height="9.08" fill="#26a69a"/>
<rect x="799" y="852.57" width="4" height="3.43" fill="#7dcac2"/>
<rect x="800" y="595.91" width="2" height="13.02" fill="#92d2cc"/>
<rect x="799" y="603.96" width="4" height="1.88" fill="#26a69a"/>
<rect x="805" y="849.83" width="4" height="6.17" fill="#f59795"/>
<rect x="806" y="603.96" width="2" height="25.01" fill="#f7a9a7"/>
<rect x="805" y="603.96" width="4" height="17.99" fill="#ef5350"/>
<rect x="811" y="852.34" width="4" height="3.66" fill="#7dcac2"/>
<rect x="812" y="616.11" width="2" height="10.97" fill="#92d2cc"/>
<rect x="811" y="618.17" width="4" height="3.77" fill="#26a69a"/>
<rect x="817" y="850.75" width="4" height="5.25" fill="#7dcac2"/>
<rect x="818" y="609.94" width="2" height="19.02" fill="#92d2cc"/>
<rect x="817" y="609.94" width="4" height="8.22" fill="#26a69a"/>
<rect x="823" y="852.34" width="4" height="3.66" fill="#7dcac2"/>
<rect x="824" y="602.92" width="2" height="13.19" fill="#92d2cc"/>
<rect x="823" y="607.03" width="4" height="2.91" fill="#26a69a"/>
<rect x="829" y="843.89" width="4" height="12.11" fill="#7dcac2"/>
<rect x="830" y="568.99" width="2" height="38.89" fill="#92d2cc"/>
<rect x="829" y="572.93" width="4" height="34.09" fill="#26a69a"/>
<rect x="835" y="847.78" width="4" height="8.22" fill="#7dcac2"/>
<rect x="836" y="557.86" width="2" height="29.13" fill="#92d2cc"/>
<rect x="835" y="568.99" width="4" height="3.94" fill="#26a69a"/>
<rect x="841" y="839.78" width="4" height="16.22" fill="#7dcac2"/>
<rect x="842" y="517.94" width="2" height="57.05" fill="#92d2cc"/>
<rect x="841" y="532.84" width="4" height="36.15" fill="#26a69a"/>
<rect x="847" y="847.32" width="4" height="8.68" fill="#f59795"/>
<rect x="848" y="530.96" width="2" height="22.96" fill="#f7a9a7"/>
<rect x="847" y="532.84" width="4" height="6.17" fill="#ef5350"/>
<rect x="853" y="848.69" width="4" height="7.31" fill="#f59795"/>
<rect x="854" y="535.93" width="2" height="27.93" fill="#f7a9a7"/>
<rect x="853" y="539.01" width="4" height="16.96" fill="#ef5350"/>
<rect x="859" y="850.75" width="4" height="5.25" fill="#7dcac2"/>
<rect x="860" y="546.04" width="2" height="17.82" fill="#92d2cc"/>
<rect x="859" y="554.94" width="4" height="1.03" fill="#26a69a"/>
<rect x="865" y="851.43" width="4" height="4.57" fill="#7dcac2"/>
<rect x="866" y="541.92" width="2" height="20.05" fill="#92d2cc"/>
<rect x="865" y="543.98" width="4" height="10.97" fill="#26a69a"/>
<rect x="871" y="849.38" width="4" height="6.62" fill="#f59795"/>
<rect x="872" y="542.95" width="2" height="19.02" fill="#f7a9a7"/>
<rect x="871" y="543.98" width="4" height="3.94" fill="#ef5350"/>
<rect x="877" y="844.81" width="4" height="11.19" fill="#f59795"/>
<rect x="878" y="525.99" width="2" height="34.95" fill="#f7a9a7"/>
<rect x="877" y="547.92" width="4" height="4.97" fill="#ef5350"/>
<rect x="883" y="847.78" width="4" height="8.22" fill="#f59795"/>
<rect x="884" y="543.98" width="2" height="18.85" fill="#f7a9a7"/>
<rect x="883" y="552.89" width="4" height="6" fill="#ef5350"/>
<rect x="889" y="829.5" width="4" height="26.5" fill="#7dcac2"/>
<rect x="890" y="517.94" width="2" height="89.95" fill="#92d2cc"/>
<rect x="889" y="522.91" width="4" height="35.98" fill="#26a69a"/>
<rect x="895" y="822.65" width="4" height="33.35" fill="#7dcac2"/>
<rect x="896" y="492.92" width="2" height="96.97" fill="#92d2cc"/>
<rect x="895" y="510.91" width="4" height="11.99" fill="#26a69a"/>
<rect x="901" y="839.55" width="4" height="16.45" fill="#f59795"/>
<rect x="902" y="492.92" width="2" height="45.06" fill="#f7a9a7"/>
<rect x="901" y="510.91" width="4" height="1.03" fill="#ef5350"/>
<rect x="907" y="848.46" width="4" height="7.54" fill="#f59795"/>
<rect x="908" y="509.03" width="2" height="31.87" fill="#f7a9a7"/>
<rect x="907" y="511.94" width="4" height="15.08" fill="#ef5350"/>
<rect x="913" y="848.69" width="4" height="7.31" fill="#7dcac2"/>
<rect x="914" y="508" width="2" height="24.84" fill="#92d2cc"/>
<rect x="913" y="523.93" width="4" height="3.08" fill="#26a69a"/>
<rect x="919" y="849.38" width="4" height="6.62" fill="#7dcac2"/>
<rect x="920" y="505.94" width="2" height="32.04" fill="#92d2cc"/>
<rect x="919" y="509.03" width="4" height="14.91" fill="#26a69a"/>
<rect x="925" y="849.38" width="4" height="6.62" fill="#f59795"/>
<rect x="926" y="503.89" width="2" height="22.1" fill="#f7a9a7"/>
<rect x="925" y="509.03" width="4" height="12.85" fill="#ef5350"/>
<rect x="931" y="851.66" width="4" height="4.34" fill="#f59795"/>
<rect x="932" y="519.99" width="2" height="16.96" fill="#f7a9a7"/>
<rect x="931" y="521.88" width="4" height="10.97" fill="#ef5350"/>
<rect x="937" y="850.06" width="4" height="5.94" fill="#f59795"/>
<rect x="938" y="527.02" width="2" height="17.99" fill="#f7a9a7"/>
<rect x="937" y="532.84" width="4" height="7.02" fill="#ef5350"/>
<rect x="943" y="851.89" width="4" height="4.11" fill="#7dcac2"/>
<rect x="944" y="525.99" width="2" height="15.93" fill="#92d2cc"/>
<rect x="943" y="536.96" width="4" height="2.91" fill="#26a69a"/>
<rect x="949" y="849.6" width="4" height="6.4" fill="#f59795"/>
<rect x="950" y="527.87" width="2" height="26.04" fill="#f7a9a7"/>
<rect x="949" y="536.96" width="4" height="14.05" fill="#ef5350"/>
<rect x="955" y="845.95" width="4" height="10.05" fill="#f59795"/>
<rect x="956" y="545.01" width="2" height="21.93" fill="#f7a9a7"/>
<rect x="955" y="551" width="4" height="14.91" fill="#ef5350"/>
<rect x="961" y="792.72" width="4" height="63.28" fill="#f59795"/>
<rect x="962" y="548.95" width="2" height="95.94" fill="#f7a9a7"/>
<rect x="961" y="565.91" width="4" height="4.97" fill="#ef5350"/>
<rect x="967" y="815.79" width="4" height="40.21" fill="#f59795"/>
<rect x="968" y="517.94" width="2" height="89.95" fill="#f7a9a7"/>
<rect x="967" y="570.88" width="4" height="6" fill="#ef5350"/>
<rect x="973" y="841.15" width="4" height="14.85" fill="#7dcac2"/>
<rect x="974" y="557" width="2" height="39.92" fill="#92d2cc"/>
<rect x="973" y="569.85" width="4" height="7.02" fill="#26a69a"/>
<rect x="979" y="843.66" width="4" height="12.34" fill="#f59795"/>
<rect x="980" y="551" width="2" height="44.89" fill="#f7a9a7"/>
<rect x="979" y="569.85" width="4" height="15.08" fill="#ef5350"/>
<rect x="985" y="825.16" width="4" height="30.84" fill="#f59795"/>
<rect x="986" y="578.93" width="2" height="113.93" fill="#f7a9a7"/>
<rect x="985" y="584.93" width="4" height="106.91" fill="#ef5350"/>
<rect x="991" y="839.78" width="4" height="16.22" fill="#7dcac2"/>
<rect x="992" y="648.83" width="2" height="55" fill="#92d2cc"/>
<rect x="991" y="657.91" width="4" height="33.92" fill="#26a69a"/>
<rect x="997" y="848.46" width="4" height="7.54" fill="#7dcac2"/>
<rect x="998" y="627.93" width="2" height="34.95" fill="#92d2cc"/>
<rect x="997" y="628.96" width="4" height="28.95" fill="#26a69a"/>
<rect x="1003" y="848.69" width="4" height="7.31" fill="#f59795"/>
<rect x="1004" y="619.88" width="2" height="15.08" fill="#f7a9a7"/>
<rect x="1003" y="628.96" width="4" height="2.06" fill="#ef5350"/>
<rect x="1009" y="848.69" width="4" height="7.31" fill="#7dcac2"/>
<rect x="1010" y="612" width="2" height="19.02" fill="#92d2cc"/>
<rect x="1009" y="623.99" width="4" height="7.02" fill="#26a69a"/>
<rect x="1015" y="847.78" width="4" height="8.22" fill="#7dcac2"/>
<rect x="1016" y="597.95" width="2" height="31.01" fill="#92d2cc"/>
<rect x="1015" y="600" width="4" height="23.99" fill="#26a69a"/>
<rect x="1021" y="845.72" width="4" height="10.28" fill="#f59795"/>
<rect x="1022" y="590.07" width="2" height="33.92" fill="#f7a9a7"/>
<rect x="1021" y="600" width="4" height="20.9" fill="#ef5350"/>
<rect x="1027" y="847.55" width="4" height="8.45" fill="#7dcac2"/>
<rect x="1028" y="602.92" width="2" height="20.05" fill="#92d2cc"/>
<rect x="1027" y="607.89" width="4" height="13.02" fill="#26a69a"/>
<rect x="1033" y="840.01" width="4" height="15.99" fill="#f59795"/>
<rect x="1034" y="602.92" width="2" height="40.09" fill="#f7a9a7"/>
<rect x="1033" y="607.89" width="4" height="11.14" fill="#ef5350"/>
<rect x="1039" y="846.86" width="4" height="9.14" fill="#7dcac2"/>
<rect x="1040" y="603.95" width="2" height="26.04" fill="#92d2cc"/>
<rect x="1039" y="609.94" width="4" height="9.08" fill="#26a69a"/>
<rect x="1045" y="826.3" width="4" height="29.7" fill="#7dcac2"/>
<rect x="1046" y="525.99" width="2" height="86.01" fill="#92d2cc"/>
<rect x="1045" y="539.87" width="4" height="70.07" fill="#26a69a"/>
<rect x="1051" y="832.7" width="4" height="23.3" fill="#7dcac2"/>
<rect x="1052" y="484.01" width="2" height="63.91" fill="#92d2cc"/>
<rect x="1051" y="509.03" width="4" height="30.84" fill="#26a69a"/>
<rect x="1057" y="843.89" width="4" height="12.11" fill="#f59795"/>
<rect x="1058" y="494.98" width="2" height="50.03" fill="#f7a9a7"/>
<rect x="1057" y="509.03" width="4" height="19.87" fill="#ef5350"/>
<rect x="1063" y="848.69" width="4" height="7.31" fill="#7dcac2"/>
<rect x="1064" y="515.88" width="2" height="23.13" fill="#92d2cc"/>
<rect x="1063" y="528.9" width="4" height="1.03" fill="#26a69a"/>
<rect x="1069" y="851.2" width="4" height="4.8" fill="#f59795"/>
<rect x="1070" y="524.96" width="2" height="19.02" fill="#f7a9a7"/>
<rect x="1069" y="528.9" width="4" height="10.11" fill="#ef5350"/>
<rect x="1075" y="852.12" width="4" height="3.88" fill="#7dcac2"/>
<rect x="1076" y="527.87" width="2" height="14.05" fill="#92d2cc"/>
<rect x="1075" y="536.96" width="4" height="2.06" fill="#26a69a"/>
<rect x="1081" y="851.89" width="4" height="4.11" fill="#7dcac2"/>
<rect x="1082" y="531.99" width="2" height="9.94" fill="#92d2cc"/>
<rect x="1081" y="531.99" width="4" height="4.97" fill="#26a69a"/>
<rect x="1087" y="848.92" width="4" height="7.08" fill="#7dcac2"/>
<rect x="1088" y="505.94" width="2" height="27.93" fill="#92d2cc"/>
<rect x="1087" y="506.97" width="4" height="25.01" fill="#26a69a"/>
<rect x="1093" y="843.89" width="4" height="12.11" fill="#f59795"/>
<rect x="1094" y="505.94" width="2" height="50.03" fill="#f7a9a7"/>
<rect x="1093" y="506.97" width="4" height="25.01" fill="#ef5350"/>
<rect x="1099" y="846.18" width="4" height="9.82" fill="#f59795"/>
<rect x="1100" y="515.88" width="2" height="32.04" fill="#f7a9a7"/>
<rect x="1099" y="531.99" width="4" height="14.05" fill="#ef5350"/>
<rect x="1105" y="840.69" width="4" height="15.31" fill="#f59795"/>
<rect x="1106" y="539.01" width="2" height="44.03" fill="#f7a9a7"/>
<rect x="1105" y="546.04" width="4" height="27.93" fill="#ef5350"/>
<rect x="1111" y="846.86" width="4" height="9.14" fill="#7dcac2"/>
<rect x="1112" y="545.01" width="2" height="31.87" fill="#92d2cc"/>
<rect x="1111" y="552.03" width="4" height="21.93" fill="#26a69a"/>
<rect x="1117" y="850.52" width="4" height="5.48" fill="#7dcac2"/>
<rect x="1118" y="531.99" width="2" height="20.9" fill="#92d2cc"/>
<rect x="1117" y="541.92" width="4" height="10.11" fill="#26a69a"/>
<rect x="1123" y="851.66" width="4" height="4.34" fill="#f59795"/>
<rect x="1124" y="530.96" width="2" height="14.05" fill="#f7a9a7"/>
<rect x="1123" y="541.92" width="4" height="3.08" fill="#ef5350"/>
<rect x="1129" y="852.34" width="4" height="3.66" fill="#7dcac2"/>
<rect x="1130" y="530.96" width="2" height="17.99" fill="#92d2cc"/>
<rect x="1129" y="540.9" width="4" height="4.11" fill="#26a69a"/>
<rect x="1135" y="850.75" width="4" height="5.25" fill="#7dcac2"/>
<rect x="1136" y="521.88" width="2" height="22.1" fill="#92d2cc"/>
<rect x="1135" y="530.96" width="4" height="9.94" fill="#26a69a"/>
<rect x="1141" y="852.8" width="4" height="3.2" fill="#f59795"/>
<rect x="1142" y="529.93" width="2" height="9.77" fill="#f7a9a7"/>
<rect x="1141" y="530.96" width="4" height="8.05" fill="#ef5350"/>
<rect x="1147" y="853.26" width="4" height="2.74" fill="#7dcac2"/>
<rect x="1148" y="527.02" width="2" height="12.85" fill="#92d2cc"/>
<rect x="1147" y="527.02" width="4" height="11.99" fill="#26a69a"/>
<rect x="1153" y="850.75" width="4" height="5.25" fill="#7dcac2"/>
<rect x="1154" y="511.94" width="2" height="22.96" fill="#92d2cc"/>
<rect x="1153" y="517.94" width="4" height="9.08" fill="#26a69a"/>
<rect x="1159" y="845.49" width="4" height="10.51" fill="#7dcac2"/>
<rect x="1160" y="496.86" width="2" height="31.01" fill="#92d2cc"/>
<rect x="1159" y="508" width="4" height="9.94" fill="#26a69a"/>
<rect x="1165" y="820.36" width="4" height="35.64" fill="#7dcac2"/>
<rect x="1166" y="453" width="2" height="59.97" fill="#92d2cc"/>
<rect x="1165" y="496.01" width="4" height="11.99" fill="#26a69a"/>
<rect x="1171" y="838.64" width="4" height="17.36" fill="#7dcac2"/>
<rect x="1172" y="473.91" width="2" height="35.12" fill="#92d2cc"/>
<rect x="1171" y="493.95" width="4" height="2.06" fill="#26a69a"/>
<rect x="1177" y="824.02" width="4" height="31.98" fill="#7dcac2"/>
<rect x="1178" y="430.9" width="2" height="80.01" fill="#92d2cc"/>
<rect x="1177" y="450.95" width="4" height="43" fill="#26a69a"/>
<rect x="1183" y="828.59" width="4" height="27.41" fill="#f59795"/>
<rect x="1184" y="437.93" width="2" height="77.96" fill="#f7a9a7"/>
<rect x="1183" y="450.95" width="4" height="35.98" fill="#ef5350"/>
<rect x="1189" y="847.78" width="4" height="8.22" fill="#f59795"/>
<rect x="1190" y="482.99" width="2" height="29.98" fill="#f7a9a7"/>
<rect x="1189" y="486.93" width="4" height="9.08" fill="#ef5350"/>
<rect x="1195" y="849.6" width="4" height="6.4" fill="#7dcac2"/>
<rect x="1196" y="478.02" width="2" height="19.87" fill="#92d2cc"/>
<rect x="1195" y="490.01" width="4" height="6" fill="#26a69a"/>
<rect x="1201" y="849.83" width="4" height="6.17" fill="#f59795"/>
<rect x="1202" y="487.96" width="2" height="26.9" fill="#f7a9a7"/>
<rect x="1201" y="490.01" width="4" height="10.97" fill="#ef5350"/>
<rect x="1207" y="851.89" width="4" height="4.11" fill="#7dcac2"/>
<rect x="1208" y="490.01" width="2" height="13.88" fill="#92d2cc"/>
<rect x="1207" y="492.92" width="4" height="8.05" fill="#26a69a"/>
<rect x="1213" y="851.89" width="4" height="4.11" fill="#7dcac2"/>
<rect x="1214" y="487.96" width="2" height="11.99" fill="#92d2cc"/>
<rect x="1213" y="492.07" width="4" height="1" fill="#26a69a"/>
<rect x="1219" y="853.26" width="4" height="2.74" fill="#7dcac2"/>
<rect x="1220" y="490.01" width="2" height="9.94" fill="#92d2cc"/>
<rect x="1219" y="490.01" width="4" height="2.06" fill="#26a69a"/>
<rect x="1225" y="853.49" width="4" height="2.51" fill="#f59795"/>
<rect x="1226" y="488.98" width="2" height="8.91" fill="#f7a9a7"/>
<rect x="1225" y="490.01" width="4" height="2.06" fill="#ef5350"/>
<rect x="1231" y="852.57" width="4" height="3.43" fill="#f59795"/>
<rect x="1232" y="488.98" width="2" height="14.91" fill="#f7a9a7"/>
<rect x="1231" y="492.07" width="4" height="5.83" fill="#ef5350"/>
<rect x="1237" y="850.29" width="4" height="5.71" fill="#f59795"/>
<rect x="1238" y="496.86" width="2" height="17.13" fill="#f7a9a7"/>
<rect x="1237" y="497.89" width="4" height="9.08" fill="#ef5350"/>
<rect x="1243" y="852.8" width="4" height="3.2" fill="#7dcac2"/>
<rect x="1244" y="497.89" width="2" height="10.11" fill="#92d2cc"/>
<rect x="1243" y="499.95" width="4" height="7.02" fill="#26a69a"/>
<rect x="1249" y="852.8" width="4" height="3.2" fill="#f59795"/>
<rect x="1250" y="498.92" width="2" height="10.97" fill="#f7a9a7"/>
<rect x="1249" y="499.95" width="4" height="1" fill="#ef5350"/>
<rect x="1255" y="852.57" width="4" height="3.43" fill="#7dcac2"/>
<rect x="1256" y="492.07" width="2" height="8.91" fill="#92d2cc"/>
<rect x="1255" y="494.98" width="4" height="6" fill="#26a69a"/>
<rect x="1261" y="853.49" width="4" height="2.51" fill="#7dcac2"/>
<rect x="1262" y="487.96" width="2" height="8.91" fill="#92d2cc"/>
<rect x="1261" y="491.04" width="4" height="3.94" fill="#26a69a"/>
<rect x="1267" y="851.89" width="4" height="4.11" fill="#f59795"/>
<rect x="1268" y="482.99" width="2" height="13.88" fill="#f7a9a7"/>
<rect x="1267" y="491.04" width="4" height="1.88" fill="#ef5350"/>
<rect x="1273" y="853.72" width="4" height="2.28" fill="#f59795"/>
<rect x="1274" y="492.07" width="2" height="9.94" fill="#f7a9a7"/>
<rect x="1273" y="492.92" width="4" height="2.06" fill="#ef5350"/>
<rect x="1279" y="853.72" width="4" height="2.28" fill="#f59795"/>
<rect x="1280" y="493.95" width="2" height="10.97" fill="#f7a9a7"/>
<rect x="1279" y="494.98" width="4" height="8.91" fill="#ef5350"/>
<rect x="1285" y="853.94" width="4" height="2.06" fill="#7dcac2"/>
<rect x="1286" y="496.86" width="2" height="9.08" fill="#92d2cc"/>
<rect x="1285" y="498.92" width="4" height="4.97" fill="#26a69a"/>
<rect x="1291" y="853.94" width="4" height="2.06" fill="#7dcac2"/>
<rect x="1292" y="493.95" width="2" height="9.08" fill="#92d2cc"/>
<rect x="1291" y="494.98" width="4" height="3.94" fill="#26a69a"/>
<rect x="1297" y="853.72" width="4" height="2.28" fill="#7dcac2"/>
<rect x="1298" y="492.92" width="2" height="6" fill="#92d2cc"/>
<rect x="1297" y="493.95" width="4" height="1.03" fill="#26a69a"/>
<rect x="1303" y="853.72" width="4" height="2.28" fill="#f59795"/>
<rect x="1304" y="491.04" width="2" height="7.88" fill="#f7a9a7"/>
<rect x="1303" y="493.95" width="4" height="2.06" fill="#ef5350"/>
<rect x="1309" y="852.34" width="4" height="3.66" fill="#f59795"/>
<rect x="1310" y="496.01" width="2" height="9.94" fill="#f7a9a7"/>
<rect x="1309" y="496.01" width="4" height="8.91" fill="#ef5350"/>
<rect x="1315" y="838.87" width="4" height="17.13" fill="#f59795"/>
<rect x="1316" y="503.89" width="2" height="41.12" fill="#f7a9a7"/>
<rect x="1315" y="504.92" width="4" height="16.1" fill="#ef5350"/>
<rect x="1321" y="845.72" width="4" height="10.28" fill="#f59795"/>
<rect x="1322" y="519.99" width="2" height="22.96" fill="#f7a9a7"/>
<rect x="1321" y="521.02" width="4" height="7.88" fill="#ef5350"/>
<rect x="1327" y="842.98" width="4" height="13.02" fill="#f59795"/>
<rect x="1328" y="521.02" width="2" height="35.98" fill="#f7a9a7"/>
<rect x="1327" y="528.9" width="4" height="14.05" fill="#ef5350"/>
<rect x="1333" y="850.29" width="4" height="5.71" fill="#7dcac2"/>
<rect x="1334" y="532.84" width="2" height="22.1" fill="#92d2cc"/>
<rect x="1333" y="533.87" width="4" height="9.08" fill="#26a69a"/>
<rect x="1339" y="846.63" width="4" height="9.37" fill="#7dcac2"/>
<rect x="1340" y="505.94" width="2" height="29.98" fill="#92d2cc"/>
<rect x="1339" y="509.89" width="4" height="23.99" fill="#26a69a"/>
<rect x="1345" y="843.89" width="4" height="12.11" fill="#f59795"/>
<rect x="1346" y="496.86" width="2" height="42.15" fill="#f7a9a7"/>
<rect x="1345" y="509.89" width="4" height="17.13" fill="#ef5350"/>
<rect x="1351" y="850.75" width="4" height="5.25" fill="#7dcac2"/>
<rect x="1352" y="514.85" width="2" height="17.13" fill="#92d2cc"/>
<rect x="1351" y="522.91" width="4" height="4.11" fill="#26a69a"/>
<rect x="1357" y="847.78" width="4" height="8.22" fill="#f59795"/>
<rect x="1358" y="521.88" width="2" height="30.15" fill="#f7a9a7"/>
<rect x="1357" y="522.91" width="4" height="16.96" fill="#ef5350"/>
<rect x="1363" y="852.34" width="4" height="3.66" fill="#7dcac2"/>
<rect x="1364" y="531.99" width="2" height="13.02" fill="#92d2cc"/>
<rect x="1363" y="539.87" width="4" height="1.03" fill="#26a69a"/>
<rect x="1369" y="846.63" width="4" height="9.37" fill="#f59795"/>
<rect x="1370" y="528.9" width="2" height="40.09" fill="#f7a9a7"/>
<rect x="1369" y="539.87" width="4" height="3.08" fill="#ef5350"/>
<rect x="1375" y="849.38" width="4" height="6.62" fill="#7dcac2"/>
<rect x="1376" y="524.96" width="2" height="21.07" fill="#92d2cc"/>
<rect x="1375" y="533.87" width="4" height="9.08" fill="#26a69a"/>
<rect x="1381" y="837.04" width="4" height="18.96" fill="#f59795"/>
<rect x="1382" y="533.87" width="2" height="52.08" fill="#f7a9a7"/>
<rect x="1381" y="533.87" width="4" height="33.07" fill="#ef5350"/>
<rect x="1387" y="840.01" width="4" height="15.99" fill="#f59795"/>
<rect x="1388" y="559.91" width="2" height="35.12" fill="#f7a9a7"/>
<rect x="1387" y="566.94" width="4" height="8.05" fill="#ef5350"/>
<rect x="1393" y="839.55" width="4" height="16.45" fill="#f59795"/>
<rect x="1394" y="562.83" width="2" height="33.07" fill="#f7a9a7"/>
<rect x="1393" y="574.99" width="4" height="19.02" fill="#ef5350"/>
<rect x="1399" y="840.47" width="4" height="15.53" fill="#7dcac2"/>
<rect x="1400" y="554.94" width="2" height="43" fill="#92d2cc"/>
<rect x="1399" y="576.88" width="4" height="17.13" fill="#26a69a"/>
<rect x="1405" y="847.32" width="4" height="8.68" fill="#f59795"/>
<rect x="1406" y="561.97" width="2" height="28.95" fill="#f7a9a7"/>
<rect x="1405" y="576.88" width="4" height="5.14" fill="#ef5350"/>
<rect x="1411" y="849.83" width="4" height="6.17" fill="#7dcac2"/>
<rect x="1412" y="564.88" width="2" height="26.04" fill="#92d2cc"/>
<rect x="1411" y="566.94" width="4" height="15.08" fill="#26a69a"/>
<rect x="1417" y="848.23" width="4" height="7.77" fill="#7dcac2"/>
<rect x="1418" y="541.92" width="2" height="32.04" fill="#92d2cc"/>
<rect x="1417" y="546.04" width="4" height="20.9" fill="#26a69a"/>
<rect x="1423" y="849.15" width="4" height="6.85" fill="#f59795"/>
<rect x="1424" y="535.93" width="2" height="17.99" fill="#f7a9a7"/>
<rect x="1423" y="546.04" width="4" height="4.97" fill="#ef5350"/>
<rect x="1429" y="851.89" width="4" height="4.11" fill="#f59795"/>
<rect x="1430" y="548.95" width="2" height="10.97" fill="#f7a9a7"/>
<rect x="1429" y="551" width="4" height="6" fill="#ef5350"/>
<rect x="1435" y="848.69" width="4" height="7.31" fill="#f59795"/>
<rect x="1436" y="555.97" width="2" height="27.07" fill="#f7a9a7"/>
<rect x="1435" y="557" width="4" height="21.93" fill="#ef5350"/>
<rect x="1441" y="848.92" width="4" height="7.08" fill="#7dcac2"/>
<rect x="1442" y="555.97" width="2" height="25.01" fill="#92d2cc"/>
<rect x="1441" y="560.94" width="4" height="17.99" fill="#26a69a"/>
<rect x="1447" y="850.75" width="4" height="5.25" fill="#f59795"/>
<rect x="1448" y="555.97" width="2" height="20.9" fill="#f7a9a7"/>
<rect x="1447" y="560.94" width="4" height="1.03" fill="#ef5350"/>
<rect x="1453" y="848.69" width="4" height="7.31" fill="#7dcac2"/>
<rect x="1454" y="543.98" width="2" height="23.99" fill="#92d2cc"/>
<rect x="1453" y="545.01" width="4" height="16.96" fill="#26a69a"/>
<rect x="1459" y="844.81" width="4" height="11.19" fill="#7dcac2"/>
<rect x="1460" y="525.99" width="2" height="28.95" fill="#92d2cc"/>
<rect x="1459" y="529.93" width="4" height="15.08" fill="#26a69a"/>
<rect x="1465" y="842.52" width="4" height="13.48" fill="#7dcac2"/>
<rect x="1466" y="514" width="2" height="27.93" fill="#92d2cc"/>
<rect x="1465" y="519.99" width="4" height="9.94" fill="#26a69a"/>
<rect x="1471" y="818.76" width="4" height="37.24" fill="#7dcac2"/>
<rect x="1472" y="448.04" width="2" height="71.96" fill="#92d2cc"/>
<rect x="1471" y="451.98" width="4" height="68.02" fill="#26a69a"/>
<rect x="1477" y="829.73" width="4" height="26.27" fill="#f59795"/>
<rect x="1478" y="433.99" width="2" height="50.88" fill="#f7a9a7"/>
<rect x="1477" y="451.98" width="4" height="9.94" fill="#ef5350"/>
<rect x="1483" y="845.72" width="4" height="10.28" fill="#f59795"/>
<rect x="1484" y="445.98" width="2" height="33.92" fill="#f7a9a7"/>
<rect x="1483" y="461.91" width="4" height="17.13" fill="#ef5350"/>
<rect x="1489" y="845.95" width="4" height="10.05" fill="#f59795"/>
<rect x="1490" y="468.94" width="2" height="37.01" fill="#f7a9a7"/>
<rect x="1489" y="479.05" width="4" height="10.97" fill="#ef5350"/>
<rect x="1495" y="846.63" width="4" height="9.37" fill="#7dcac2"/>
<rect x="1496" y="462.94" width="2" height="41.98" fill="#92d2cc"/>
<rect x="1495" y="479.9" width="4" height="10.11" fill="#26a69a"/>
<rect x="1501" y="850.75" width="4" height="5.25" fill="#7dcac2"/>
<rect x="1502" y="472.02" width="2" height="16.96" fill="#92d2cc"/>
<rect x="1501" y="478.02" width="4" height="1.88" fill="#26a69a"/>
<rect x="1507" y="852.34" width="4" height="3.66" fill="#7dcac2"/>
<rect x="1508" y="468.94" width="2" height="15.93" fill="#92d2cc"/>
<rect x="1507" y="469.97" width="4" height="8.05" fill="#26a69a"/>
<rect x="1513" y="847.32" width="4" height="8.68" fill="#7dcac2"/>
<rect x="1514" y="449.06" width="2" height="25.87" fill="#92d2cc"/>
<rect x="1513" y="462.94" width="4" height="7.02" fill="#26a69a"/>
<rect x="1519" y="838.18" width="4" height="17.82" fill="#7dcac2"/>
<rect x="1520" y="424.05" width="2" height="40.95" fill="#92d2cc"/>
<rect x="1519" y="444.95" width="4" height="17.99" fill="#26a69a"/>
<rect x="1525" y="842.52" width="4" height="13.48" fill="#f59795"/>
<rect x="1526" y="443.92" width="2" height="38.04" fill="#f7a9a7"/>
<rect x="1525" y="444.95" width="4" height="17.99" fill="#ef5350"/>
<rect x="1531" y="846.86" width="4" height="9.14" fill="#7dcac2"/>
<rect x="1532" y="443.92" width="2" height="23.99" fill="#92d2cc"/>
<rect x="1531" y="461.91" width="4" height="1.03" fill="#26a69a"/>
<rect x="1537" y="830.87" width="4" height="25.13" fill="#f59795"/>
<rect x="1538" y="455.06" width="2" height="60.82" fill="#f7a9a7"/>
<rect x="1537" y="461.91" width="4" height="28.1" fill="#ef5350"/>
<rect x="1543" y="845.72" width="4" height="10.28" fill="#f59795"/>
<rect x="1544" y="484.87" width="2" height="22.1" fill="#f7a9a7"/>
<rect x="1543" y="490.01" width="4" height="4.97" fill="#ef5350"/>
<rect x="1549" y="849.6" width="4" height="6.4" fill="#7dcac2"/>
<rect x="1550" y="479.05" width="2" height="25.87" fill="#92d2cc"/>
<rect x="1549" y="485.9" width="4" height="9.08" fill="#26a69a"/>
<rect x="1555" y="847.55" width="4" height="8.45" fill="#f59795"/>
<rect x="1556" y="484.87" width="2" height="29.13" fill="#f7a9a7"/>
<rect x="1555" y="485.9" width="4" height="13.02" fill="#ef5350"/>
<rect x="1561" y="851.89" width="4" height="4.11" fill="#7dcac2"/>
<rect x="1562" y="485.9" width="2" height="15.08" fill="#92d2cc"/>
<rect x="1561" y="487.96" width="4" height="10.97" fill="#26a69a"/>
<rect x="1567" y="851.66" width="4" height="4.34" fill="#f59795"/>
<rect x="1568" y="485.9" width="2" height="17.13" fill="#f7a9a7"/>
<rect x="1567" y="487.96" width="4" height="15.08" fill="#ef5350"/>
<rect x="1573" y="849.6" width="4" height="6.4" fill="#7dcac2"/>
<rect x="1574" y="468.94" width="2" height="34.95" fill="#92d2cc"/>
<rect x="1573" y="468.94" width="4" height="34.09" fill="#26a69a"/>
<rect x="1579" y="848.46" width="4" height="7.54" fill="#f59795"/>
<rect x="1580" y="459" width="2" height="28.95" fill="#f7a9a7"/>
<rect x="1579" y="468.94" width="4" height="15.93" fill="#ef5350"/>
<rect x="1585" y="849.83" width="4" height="6.17" fill="#f59795"/>
<rect x="1586" y="478.02" width="2" height="17.99" fill="#f7a9a7"/>
<rect x="1585" y="484.87" width="4" height="8.05" fill="#ef5350"/>
<rect x="1591" y="846.63" width="4" height="9.37" fill="#f59795"/>
<rect x="1592" y="491.04" width="2" height="22.96" fill="#f7a9a7"/>
<rect x="1591" y="492.92" width="4" height="8.05" fill="#ef5350"/>
<rect x="1597" y="849.38" width="4" height="6.62" fill="#7dcac2"/>
<rect x="1598" y="481.96" width="2" height="25.01" fill="#92d2cc"/>
<rect x="1597" y="484.87" width="4" height="16.1" fill="#26a69a"/>
<rect x="1603" y="843.66" width="4" height="12.34" fill="#f59795"/>
<rect x="1604" y="475.96" width="2" height="34.95" fill="#f7a9a7"/>
<rect x="1603" y="484.87" width="4" height="15.08" fill="#ef5350"/>
<rect x="1609" y="837.27" width="4" height="18.73" fill="#f59795"/>
<rect x="1610" y="493.95" width="2" height="32.04" fill="#f7a9a7"/>
<rect x="1609" y="499.95" width="4" height="10.62" fill="#ef5350"/>
</g>
<line x1="51" y1="510.5" x2="1664" y2="510.5" stroke="#ef5350" stroke-width="1" stroke-dasharray="4 4"/>
<rect x="50" y="345" width="1" height="536" fill="#dcdcdc"/>
<rect x="1664" y="345" width="1" height="512" fill="#dcdcdc"/>
<rect x="50" y="856" width="1615" height="1" fill="#dcdcdc"/>
<rect x="1665" y="433" width="3" height="1" fill="#dcdcdc"/>
<rect x="1665" y="588" width="3" height="1" fill="#dcdcdc"/>
<rect x="1665" y="666" width="3" height="1" fill="#dcdcdc"/>
<rect x="1665" y="744" width="3" height="1" fill="#dcdcdc"/>
<rect x="1665" y="821" width="3" height="1" fill="#dcdcdc"/>
<rect x="1665" y="511" width="3" height="1" fill="#dcdcdc"/>
</svg>
<span style="position:absolute;left:1671px;top:426px;font-size:12px;line-height:14px;color:#76808f;white-space:nowrap;letter-spacing:0.421px;">38400.00</span>
<span style="position:absolute;left:1671px;top:504px;font-size:12px;line-height:14px;color:#76808f;white-space:nowrap;letter-spacing:0.421px;">37600.00</span>
<span style="position:absolute;left:1671px;top:581px;font-size:12px;line-height:14px;color:#76808f;white-space:nowrap;letter-spacing:0.421px;">36800.00</span>
<span style="position:absolute;left:1671px;top:659px;font-size:12px;line-height:14px;color:#76808f;white-space:nowrap;letter-spacing:0.421px;">36000.00</span>
<span style="position:absolute;left:1671px;top:737px;font-size:12px;line-height:14px;color:#76808f;white-space:nowrap;letter-spacing:0.421px;">35200.00</span>
<span style="position:absolute;left:1671px;top:814px;font-size:12px;line-height:14px;color:#76808f;white-space:nowrap;letter-spacing:0.421px;">34400.00</span>
<span style="position:absolute;left:182.8px;top:862px;font-size:12px;line-height:14px;color:#76808f;white-space:nowrap;letter-spacing:-1.397px;transform:translateX(-50%);">11–11</span>
<span style="position:absolute;left:363.19px;top:862px;font-size:12px;line-height:14px;color:#76808f;white-space:nowrap;letter-spacing:-0.620px;transform:translateX(-50%);">11–13</span>
<span style="position:absolute;left:543.19px;top:862px;font-size:12px;line-height:14px;color:#76808f;white-space:nowrap;letter-spacing:-0.620px;transform:translateX(-50%);">11–16</span>
<span style="position:absolute;left:723.19px;top:862px;font-size:12px;line-height:14px;color:#76808f;white-space:nowrap;letter-spacing:-0.620px;transform:translateX(-50%);">11–18</span>
<span style="position:absolute;left:903.19px;top:862px;font-size:12px;line-height:14px;color:#76808f;white-space:nowrap;letter-spacing:-0.620px;transform:translateX(-50%);">11–21</span>
<span style="position:absolute;left:1083.19px;top:862px;font-size:12px;line-height:14px;color:#76808f;white-space:nowrap;letter-spacing:-0.620px;transform:translateX(-50%);">11–23</span>
<span style="position:absolute;left:1263.19px;top:862px;font-size:12px;line-height:14px;color:#76808f;white-space:nowrap;letter-spacing:-0.620px;transform:translateX(-50%);">11–26</span>
<span style="position:absolute;left:1443.19px;top:862px;font-size:12px;line-height:14px;color:#76808f;white-space:nowrap;letter-spacing:-0.620px;transform:translateX(-50%);">11–28</span>
<div style="position:absolute;left:1664.5px;top:502px;width:53.5px;height:15.5px;background:#ef5350;border-radius:2px"></div>
<span style="position:absolute;left:1668px;top:503px;font-size:12px;line-height:14px;color:#fff;white-space:nowrap;letter-spacing:-0.150px;">37614.00</span>
<span style="position:absolute;left:52.6px;top:350px;font-size:12px;line-height:14px;color:#76808f;white-space:nowrap;letter-spacing:-0.942px;">O=</span>
<span style="position:absolute;left:69.1px;top:350px;font-size:12px;line-height:14px;color:#ef5350;white-space:nowrap;letter-spacing:0.137px;">37709.5</span>
<span style="position:absolute;left:117.7px;top:350px;font-size:12px;line-height:14px;color:#76808f;white-space:nowrap;letter-spacing:-0.174px;">H=</span>
<span style="position:absolute;left:134.2px;top:350px;font-size:12px;line-height:14px;color:#ef5350;white-space:nowrap;letter-spacing:0.021px;">37774.6</span>
<span style="position:absolute;left:181.8px;top:350px;font-size:12px;line-height:14px;color:#76808f;white-space:nowrap;letter-spacing:0.018px;">L=</span>
<span style="position:absolute;left:196.2px;top:350px;font-size:12px;line-height:14px;color:#ef5350;white-space:nowrap;letter-spacing:0.254px;">37442.9</span>
<span style="position:absolute;left:245.5px;top:350px;font-size:12px;line-height:14px;color:#76808f;white-space:nowrap;letter-spacing:0.126px;">C=</span>
<span style="position:absolute;left:262px;top:350px;font-size:12px;line-height:14px;color:#ef5350;white-space:nowrap;letter-spacing:-0.292px;">37614</span>
<span style="position:absolute;left:298.7px;top:350px;font-size:12px;line-height:14px;color:#76808f;white-space:nowrap;letter-spacing:-0.612px;">V=</span>
<span style="position:absolute;left:313.8px;top:350px;font-size:12px;line-height:14px;color:#ef5350;white-space:nowrap;letter-spacing:-0.250px;">41291.56</span>
<div style="position:absolute;left:1557px;top:362px;width:88.5px;height:24px;box-sizing:border-box;border:1px solid #e4e6ea;border-radius:3px;background:#f5f6f8"></div>
<div style="position:absolute;left:1622px;top:363.5px;width:1px;height:21px;background:#e4e6ea"></div>
<span style="position:absolute;left:1565.3px;top:366px;font-size:12px;line-height:14px;color:#858b94;white-space:nowrap;letter-spacing:0.434px;">Indicator</span>
<svg width="1751" height="1899" viewBox="0 0 1751 1899">
<g stroke="#606060" stroke-width="1.2" fill="none" stroke-linecap="butt">
<path d="M1629 368.2 L1632.3 371.5"/>
<path d="M1628 367.2 L1628 369.7 L1630.5 367.2 Z" fill="#606060" stroke="none"/>
<path d="M1639 368.2 L1635.7 371.5"/>
<path d="M1640 367.2 L1640 369.7 L1637.5 367.2 Z" fill="#606060" stroke="none"/>
<path d="M1629 378.2 L1632.3 374.9"/>
<path d="M1628 379.2 L1628 376.7 L1630.5 379.2 Z" fill="#606060" stroke="none"/>
<path d="M1639 378.2 L1635.7 374.9"/>
<path d="M1640 379.2 L1640 376.7 L1637.5 379.2 Z" fill="#606060" stroke="none"/>
</g>
<g>
<line x1="27.2" y1="363" x2="42.8" y2="363" stroke="#5a5a5a" stroke-width="1.1"/><circle cx="35.1" cy="363" r="1.7" fill="#5a5a5a"/>
<line x1="27.2" y1="394" x2="42.8" y2="394" stroke="#5a5a5a" stroke-width="1.1"/><circle cx="28.6" cy="394" r="1.7" fill="#5a5a5a"/><circle cx="35.9" cy="394" r="1.7" fill="#5a5a5a"/>
<line x1="28.6" y1="425" x2="41.6" y2="425" stroke="#5a5a5a" stroke-width="1.1"/><circle cx="28.6" cy="425" r="1.7" fill="#5a5a5a"/><circle cx="41.6" cy="425" r="1.7" fill="#5a5a5a"/>
<line x1="35.1" y1="447.3" x2="35.1" y2="464.8" stroke="#5a5a5a" stroke-width="1.1"/><circle cx="35.1" cy="456.1" r="1.7" fill="#5a5a5a"/>
<line x1="35.1" y1="479.3" x2="35.1" y2="493.6" stroke="#5a5a5a" stroke-width="1.1"/><circle cx="35.1" cy="486.2" r="1.7" fill="#5a5a5a"/><circle cx="35.1" cy="493.6" r="1.7" fill="#5a5a5a"/>
<line x1="35.1" y1="511.7" x2="35.1" y2="524.8" stroke="#5a5a5a" stroke-width="1.1"/><circle cx="35.1" cy="511.7" r="1.7" fill="#5a5a5a"/><circle cx="35.1" cy="524.8" r="1.7" fill="#5a5a5a"/>
<line x1="28.9" y1="555.2" x2="41.3" y2="543" stroke="#5a5a5a" stroke-width="1.1"/><circle cx="32.5" cy="551.3" r="1.7" fill="#5a5a5a"/><circle cx="37.1" cy="546.5" r="1.7" fill="#5a5a5a"/>
<line x1="30.4" y1="584.6" x2="41.7" y2="573.7" stroke="#5a5a5a" stroke-width="1.1"/><circle cx="30.4" cy="584.6" r="1.7" fill="#5a5a5a"/><circle cx="36.1" cy="578.8" r="1.7" fill="#5a5a5a"/>
<line x1="29.5" y1="616.5" x2="39.4" y2="606.6" stroke="#5a5a5a" stroke-width="1.1"/><circle cx="29.5" cy="616.5" r="1.7" fill="#5a5a5a"/><circle cx="39.4" cy="606.6" r="1.7" fill="#5a5a5a"/>
<line x1="28.6" y1="644.3" x2="42.8" y2="644.3" stroke="#5a5a5a" stroke-width="1.1"/><circle cx="28.6" cy="644.3" r="1.7" fill="#5a5a5a"/>
<text x="31" y="642.6" font-size="7" fill="#5a5a5a" textLength="10.8" lengthAdjust="spacingAndGlyphs">123</text>
<line x1="26" y1="677.2" x2="38.8" y2="665" stroke="#5a5a5a" stroke-width="1.1"/><circle cx="32.4" cy="671" r="1.7" fill="#5a5a5a"/><line x1="31" y1="682.7" x2="43.4" y2="670.2" stroke="#5a5a5a" stroke-width="1.1"/><circle cx="35" cy="678.6" r="1.7" fill="#5a5a5a"/><circle cx="39.4" cy="674.3" r="1.7" fill="#5a5a5a"/>
<line x1="26.8" y1="705" x2="36.5" y2="696.3" stroke="#5a5a5a" stroke-width="1.1"/><line x1="28.9" y1="710.2" x2="41.1" y2="698" stroke="#5a5a5a" stroke-width="1.1"/><circle cx="32.6" cy="706.4" r="1.7" fill="#5a5a5a"/><circle cx="37.3" cy="701.8" r="1.7" fill="#5a5a5a"/><line x1="34.1" y1="712" x2="43.4" y2="702.7" stroke="#5a5a5a" stroke-width="1.1"/><circle cx="38.2" cy="707.6" r="1.7" fill="#5a5a5a"/>
<line x1="26.3" y1="729.4" x2="43.8" y2="729.4" stroke="#5a5a5a" stroke-width="1.0"/>
<line x1="26.3" y1="732.6" x2="43.8" y2="732.6" stroke="#5a5a5a" stroke-width="1.0"/>
<line x1="26.3" y1="735.8" x2="43.8" y2="735.8" stroke="#5a5a5a" stroke-width="1.3"/>
<line x1="26.3" y1="739.2" x2="43.8" y2="739.2" stroke="#5a5a5a" stroke-width="1.0"/>
<line x1="26.3" y1="742.5" x2="43.8" y2="742.5" stroke="#5a5a5a" stroke-width="1.0"/>
<circle cx="30.7" cy="729.4" r="1.7" fill="#5a5a5a"/><circle cx="39.4" cy="729.4" r="1.7" fill="#5a5a5a"/><circle cx="35.1" cy="742.5" r="1.7" fill="#5a5a5a"/>
<path d="M26.3 759.8 H43.8 M32.6 759.6 C32.8 756.6 37.3 756.6 37.5 759.6 M27.9 760 L28.6 772 Q28.8 774 30.8 774 H39.4 Q41.4 774 41.6 772 L42.3 760 M32.6 763 V771 M37.3 763 V771" stroke="#5a5a5a" stroke-width="1.2" fill="none" stroke-linecap="round"/>
</g>
<text x="183" y="483.3" font-size="10" fill="#e8364d" text-anchor="middle">1</text><text x="182.5" y="496.3" font-size="10" fill="#e8364d" text-anchor="middle" textLength="22.5" lengthAdjust="spacingAndGlyphs">Long</text><text x="189.5" y="500.6" font-size="10" fill="#e8364d" text-anchor="middle" textLength="22.5" lengthAdjust="spacingAndGlyphs">short</text>
<path d="M183 501.5 V511.5" stroke="#e8364d" stroke-width="1.6" fill="none"/><path d="M178.4 510.5 H187.6 L183 515.5 Z" fill="#e8364d"/><path d="M189 506.3 V516.5" stroke="#e8364d" stroke-width="1.6" fill="none"/><path d="M184.4 515.5 H193.6 L189 520.5 Z" fill="#e8364d"/>
<path d="M185 544 L191 538.3 V549.8 Z" fill="#e8364d"/>
<text x="1137" y="479.2" font-size="10" fill="#e8364d" text-anchor="middle">1</text><text x="1136.5" y="492.2" font-size="10" fill="#e8364d" text-anchor="middle" textLength="22.5" lengthAdjust="spacingAndGlyphs">Long</text><text x="1143.5" y="496.5" font-size="10" fill="#e8364d" text-anchor="middle" textLength="22.5" lengthAdjust="spacingAndGlyphs">short</text>
<path d="M1137 497.4 V507.5" stroke="#e8364d" stroke-width="1.6" fill="none"/><path d="M1132.4 506.5 H1141.6 L1137 511.5 Z" fill="#e8364d"/><path d="M1143 501.3 V512" stroke="#e8364d" stroke-width="1.6" fill="none"/><path d="M1138.4 511 H1147.6 L1143 516 Z" fill="#e8364d"/>
<path d="M1139.5 531 L1145 525.8 V536.2 Z" fill="#e8364d"/>
<path d="M399 642.5 H411" stroke="#bb1ff0" stroke-width="1.8"/><path d="M405 645.5 V658.8" stroke="#bb1ff0" stroke-width="1.7"/><path d="M400.2 650.1 L405 643.9 L409.8 650.1 Z" fill="#bb1ff0"/><text x="405" y="673.3" font-size="10" fill="#bb1ff0" text-anchor="middle" textLength="23.5" lengthAdjust="spacingAndGlyphs">close</text>
<path d="M1161 524 H1173" stroke="#bb1ff0" stroke-width="1.8"/><path d="M1167 527 V540.3" stroke="#bb1ff0" stroke-width="1.7"/><path d="M1162.2 531.6 L1167 525.4 L1171.8 531.6 Z" fill="#bb1ff0"/><text x="1167" y="554.8" font-size="10" fill="#bb1ff0" text-anchor="middle" textLength="23.5" lengthAdjust="spacingAndGlyphs">close</text>
<path d="M1526.5 417.3 H1521.2 V423" stroke="#76808f" stroke-width="1" fill="none"/><path d="M1519 420.6 L1521.2 423.4 L1523.4 420.6" stroke="#76808f" stroke-width="1" fill="none"/>
<text x="1531.6" y="421.3" font-size="10" fill="#76808f" textLength="43.5" lengthAdjust="spacingAndGlyphs">38500.00</text>
<path d="M477 824.6 H471.5 V819.5" stroke="#76808f" stroke-width="1" fill="none"/><path d="M469.3 821.8 L471.5 819 L473.7 821.8" stroke="#76808f" stroke-width="1" fill="none"/>
<text x="481.4" y="828.2" font-size="10" fill="#76808f" textLength="44" lengthAdjust="spacingAndGlyphs">34446.30</text>
<g stroke="#cfcfcf" stroke-width="1.2" fill="none">
<path d="M1722.4 934.4 L1726.2 938.2"/>
<path d="M1733.6 934.4 L1729.8 938.2"/>
<path d="M1722.4 945.6 L1726.2 941.8"/>
<path d="M1733.6 945.6 L1729.8 941.8"/>
</g>
<g stroke="#444" stroke-width="1.3" fill="none" stroke-linecap="round" stroke-linejoin="round">
<path d="M1692 996.2 H1690.6 C1686.2 996.2 1685.8 990.2 1690 989.6 C1690.6 984.8 1699.4 984.8 1700 989.6 C1704.2 990.2 1703.8 996.2 1699.4 996.2 H1698"/>
<path d="M1695 991.4 V997.6 M1692.9 995.6 L1695 997.8 L1697.1 995.6"/>
</g>
<path d="M1721.43 986.74 L1721.71 984.31 L1724.29 984.31 L1724.57 986.74 L1726.60 987.91 L1728.84 986.94 L1730.13 989.17 L1728.17 990.62 L1728.17 992.98 L1730.13 994.43 L1728.84 996.66 L1726.60 995.69 L1724.57 996.86 L1724.29 999.29 L1721.71 999.29 L1721.43 996.86 L1719.40 995.69 L1717.16 996.66 L1715.87 994.43 L1717.83 992.98 L1717.83 990.62 L1715.87 989.17 L1717.16 986.94 L1719.40 987.91 Z" stroke="#444" stroke-width="1.3" fill="none" stroke-linejoin="round"/>
<circle cx="1723" cy="991.8" r="2.6" stroke="#444" stroke-width="1.3" fill="none"/>
</svg>
<span style="position:absolute;left:875.16px;top:1346px;font-size:14.6px;line-height:16px;color:#5a5a5a;white-space:nowrap;letter-spacing:0.322px;transform:translateX(-50%);">InitAssets : 50000 Total Profit: 1.214 %, AnnualizedReturns (365 days) : 14.771 %, Sharpe ratio : 0.058, Volatility : 2.036 %, MaxDrawDown : 1.753 %</span>
<span style="position:absolute;left:1630px;top:1350px;font-size:12px;line-height:14px;color:#222;white-space:nowrap;letter-spacing:0.127px;">FullScreen</span>
<div style="position:absolute;left:1701.6px;top:1348.7px;width:17px;height:2.6px;background:#606060;border-radius:1px"></div>
<div style="position:absolute;left:1701.6px;top:1354.3px;width:17px;height:2.6px;background:#606060;border-radius:1px"></div>
<div style="position:absolute;left:1701.6px;top:1360px;width:17px;height:2.6px;background:#606060;border-radius:1px"></div>
<span style="position:absolute;left:29.3px;top:1381px;font-size:12px;line-height:14px;color:#444;white-space:nowrap;letter-spacing:0.575px;">Zoom</span>
<div style="position:absolute;left:67.3px;top:1376.2px;width:31.4px;height:21.6px;border-radius:2px;background:#f7f7f7"></div>
<span style="position:absolute;left:83px;top:1381px;font-size:12px;line-height:14px;color:#cccccc;white-space:nowrap;transform:translateX(-50%);">1h</span>
<div style="position:absolute;left:104.3px;top:1376.2px;width:31.4px;height:21.6px;border-radius:2px;background:#f7f7f7"></div>
<span style="position:absolute;left:120px;top:1381px;font-size:12px;line-height:14px;color:#cccccc;white-space:nowrap;transform:translateX(-50%);">3h</span>
<div style="position:absolute;left:141.3px;top:1376.2px;width:31.4px;height:21.6px;border-radius:2px;background:#f7f7f7"></div>
<span style="position:absolute;left:157px;top:1381px;font-size:12px;line-height:14px;color:#cccccc;white-space:nowrap;transform:translateX(-50%);">8h</span>
<div style="position:absolute;left:178.3px;top:1376.2px;width:31.4px;height:21.6px;border-radius:2px;background:#f7f7f7"></div>
<span style="position:absolute;left:194px;top:1381px;font-size:12px;line-height:14px;color:#cccccc;white-space:nowrap;transform:translateX(-50%);">12h</span>
<div style="position:absolute;left:215.4px;top:1376.2px;width:31.4px;height:21.6px;border-radius:2px;background:#f7f7f7"></div>
<span style="position:absolute;left:231.1px;top:1381px;font-size:12px;line-height:14px;color:#cccccc;white-space:nowrap;transform:translateX(-50%);">24h</span>
<div style="position:absolute;left:252.4px;top:1376.2px;width:31.4px;height:21.6px;border-radius:2px;background:#e6ebf5"></div>
<span style="position:absolute;left:268.1px;top:1381px;font-size:12px;line-height:14px;color:#111;white-space:nowrap;font-weight:bold;transform:translateX(-50%);">All</span>
<svg width="1751" height="1899" viewBox="0 0 1751 1899">
<line x1="29.3" y1="1410.5" x2="1709.3" y2="1410.5" stroke="#e6e6e6" stroke-width="1" shape-rendering="crispEdges"/>
<line x1="29.3" y1="1428.5" x2="1709.3" y2="1428.5" stroke="#e6e6e6" stroke-width="1" shape-rendering="crispEdges"/>
<line x1="29.3" y1="1446.5" x2="1709.3" y2="1446.5" stroke="#e6e6e6" stroke-width="1" shape-rendering="crispEdges"/>
<line x1="29.3" y1="1463.5" x2="1709.3" y2="1463.5" stroke="#e6e6e6" stroke-width="1" shape-rendering="crispEdges"/>
<line x1="29.3" y1="1481.5" x2="1709.3" y2="1481.5" stroke="#e6e6e6" stroke-width="1" shape-rendering="crispEdges"/>
<line x1="29.3" y1="1498.5" x2="1709.3" y2="1498.5" stroke="#e6e6e6" stroke-width="1" shape-rendering="crispEdges"/>
<line x1="29.3" y1="1516.5" x2="1709.3" y2="1516.5" stroke="#e6e6e6" stroke-width="1" shape-rendering="crispEdges"/>
<line x1="29.3" y1="1533.5" x2="1709.3" y2="1533.5" stroke="#e6e6e6" stroke-width="1" shape-rendering="crispEdges"/>
<line x1="29.3" y1="1551.5" x2="1709.3" y2="1551.5" stroke="#e6e6e6" stroke-width="1" shape-rendering="crispEdges"/>
<line x1="29.3" y1="1568.5" x2="1709.3" y2="1568.5" stroke="#e6e6e6" stroke-width="1" shape-rendering="crispEdges"/>
<polygon points="55.5,1498 110.5,1498 164.5,1507.8 218.4,1559 381.4,1559 435.9,1497.5 489.3,1459.5 543.8,1490.9 651.7,1490.9 706.2,1477.5 760.2,1483.7 814.7,1460 868.1,1426 1356.8,1426 1410.9,1455.7 1681.5,1455.7 1681.5,1498 55.5,1498" fill="#7cb5ec" fill-opacity="0.2"/>
<line x1="29.3" y1="1497.5" x2="1709.3" y2="1497.5" stroke="#000" stroke-width="1.2" shape-rendering="crispEdges"/>
<path d="M55.5 1498 L110.5 1498 L164.5 1507.8 L218.4 1559" stroke="#7cb5ec" stroke-width="2" fill="none" stroke-dasharray="6 2"/>
<path d="M218.4 1559 L381.4 1559 L435.9 1497.5 L489.3 1459.5 L543.8 1490.9 L651.7 1490.9 L706.2 1477.5 L760.2 1483.7 L814.7 1460 L868.1 1426 L1356.8 1426 L1410.9 1455.7 L1681.5 1455.7" stroke="#7cb5ec" stroke-width="2" fill="none" stroke-linejoin="round"/>
<circle cx="218.4" cy="1561.4" r="5" fill="#00c000" stroke="#ff3b4e" stroke-width="1"/>
<line x1="218.4" y1="1559.6" x2="218.4" y2="1566.4" stroke="#ff3b4e" stroke-width="1.1"/><circle cx="218.4" cy="1559.3" r="1.1" fill="#d9703a" stroke="#ff3b4e" stroke-width="0.5"/>
<circle cx="868.4" cy="1428.5" r="5" fill="#00c000" stroke="#333" stroke-width="1"/>
<path d="M868.4 1426 V1433.4 M867.2 1425.8 H869.6" stroke="#444" stroke-width="1.2" fill="none"/>
<line x1="1709.3" y1="1410.5" x2="1709.3" y2="1568" stroke="#ccd6eb" stroke-width="1" shape-rendering="crispEdges"/>
<line x1="1709.3" y1="1575.5" x2="1709.3" y2="1647" stroke="#ccd6eb" stroke-width="1" shape-rendering="crispEdges"/>
<line x1="1709.3" y1="1653" x2="1709.3" y2="1725" stroke="#ccd6eb" stroke-width="1" shape-rendering="crispEdges"/>
<line x1="1709.3" y1="1731.2" x2="1709.3" y2="1802.6" stroke="#ccd6eb" stroke-width="1" shape-rendering="crispEdges"/>
<line x1="29.3" y1="1575.5" x2="1709.3" y2="1575.5" stroke="#e6e6e6" stroke-width="1" shape-rendering="crispEdges"/>
<line x1="29.3" y1="1647" x2="1709.3" y2="1647" stroke="#e6e6e6" stroke-width="1" shape-rendering="crispEdges"/>
<line x1="29.3" y1="1653" x2="1709.3" y2="1653" stroke="#e6e6e6" stroke-width="1" shape-rendering="crispEdges"/>
<line x1="29.3" y1="1725" x2="1709.3" y2="1725" stroke="#e6e6e6" stroke-width="1" shape-rendering="crispEdges"/>
<line x1="29.3" y1="1731.2" x2="1709.3" y2="1731.2" stroke="#e6e6e6" stroke-width="1" shape-rendering="crispEdges"/>
<rect x="422" y="1581.1" width="26.7" height="31.4" fill="#97b55c"/>
<rect x="477" y="1593" width="26.7" height="19.5" fill="#97b55c"/>
<rect x="692.8" y="1606.3" width="26.8" height="6.2" fill="#97b55c"/>
<rect x="801.8" y="1601.2" width="26.7" height="11.3" fill="#97b55c"/>
<rect x="855.8" y="1595" width="26.7" height="17.5" fill="#97b55c"/>
<rect x="151.1" y="1613" width="26.7" height="3.6" fill="#735a8c"/>
<rect x="206.1" y="1613" width="26.7" height="25.7" fill="#735a8c"/>
<rect x="531" y="1613" width="26.7" height="15.4" fill="#735a8c"/>
<rect x="747.8" y="1613" width="26.8" height="1.6" fill="#735a8c"/>
<rect x="1398" y="1613" width="26.8" height="14.5" fill="#735a8c"/>
<rect x="110" y="1707.5" width="54.5" height="14" fill="#f5829b"/>
<rect x="381.4" y="1707.5" width="54" height="14" fill="#f5829b"/>
<rect x="652.2" y="1707.5" width="162.5" height="14" fill="#f5829b"/>
<rect x="97.1" y="1663.9" width="26.8" height="42.6" fill="#f5a25d"/>
<rect x="151.1" y="1692.7" width="26.7" height="13.8" fill="#f5a25d"/>
<rect x="368" y="1663.9" width="26.7" height="42.6" fill="#f5a25d"/>
<rect x="422" y="1692.7" width="26.7" height="13.8" fill="#f5a25d"/>
<rect x="477" y="1678.8" width="26.7" height="27.7" fill="#f5a25d"/>
<rect x="638.9" y="1692.7" width="26.7" height="13.8" fill="#f5a25d"/>
<rect x="801.8" y="1692.7" width="26.7" height="13.8" fill="#f5a25d"/>
<rect x="1344" y="1678.9" width="26.7" height="27.6" fill="#f5a25d"/>
<line x1="29.3" y1="1706.5" x2="1708" y2="1706.5" stroke="#2b8fd6" stroke-width="2" shape-rendering="crispEdges"/>
<line x1="29.3" y1="1803.5" x2="1709.3" y2="1803.5" stroke="#ccd6eb" stroke-width="1" shape-rendering="crispEdges"/>
<line x1="110.5" y1="1803.5" x2="110.5" y2="1813" stroke="#ccd6eb" stroke-width="1" shape-rendering="crispEdges"/>
<line x1="218.8" y1="1803.5" x2="218.8" y2="1813" stroke="#ccd6eb" stroke-width="1" shape-rendering="crispEdges"/>
<line x1="327.1" y1="1803.5" x2="327.1" y2="1813" stroke="#ccd6eb" stroke-width="1" shape-rendering="crispEdges"/>
<line x1="435.4" y1="1803.5" x2="435.4" y2="1813" stroke="#ccd6eb" stroke-width="1" shape-rendering="crispEdges"/>
<line x1="543.7" y1="1803.5" x2="543.7" y2="1813" stroke="#ccd6eb" stroke-width="1" shape-rendering="crispEdges"/>
<line x1="652" y1="1803.5" x2="652" y2="1813" stroke="#ccd6eb" stroke-width="1" shape-rendering="crispEdges"/>
<line x1="760.3" y1="1803.5" x2="760.3" y2="1813" stroke="#ccd6eb" stroke-width="1" shape-rendering="crispEdges"/>
<line x1="868.6" y1="1803.5" x2="868.6" y2="1813" stroke="#ccd6eb" stroke-width="1" shape-rendering="crispEdges"/>
<line x1="976.9" y1="1803.5" x2="976.9" y2="1813" stroke="#ccd6eb" stroke-width="1" shape-rendering="crispEdges"/>
<line x1="1085.2" y1="1803.5" x2="1085.2" y2="1813" stroke="#ccd6eb" stroke-width="1" shape-rendering="crispEdges"/>
<line x1="1193.5" y1="1803.5" x2="1193.5" y2="1813" stroke="#ccd6eb" stroke-width="1" shape-rendering="crispEdges"/>
<line x1="1301.8" y1="1803.5" x2="1301.8" y2="1813" stroke="#ccd6eb" stroke-width="1" shape-rendering="crispEdges"/>
<line x1="1410.1" y1="1803.5" x2="1410.1" y2="1813" stroke="#ccd6eb" stroke-width="1" shape-rendering="crispEdges"/>
<line x1="1518.4" y1="1803.5" x2="1518.4" y2="1813" stroke="#ccd6eb" stroke-width="1" shape-rendering="crispEdges"/>
<line x1="1626.7" y1="1803.5" x2="1626.7" y2="1813" stroke="#ccd6eb" stroke-width="1" shape-rendering="crispEdges"/>
<path d="M55.5 1802.2 L164.5 1802.2 L164.5 1741 L218.4 1741 L218.4 1802.2 L435.4 1802.2 L435.4 1740 L489.3 1740 L489.3 1802.2 L706.2 1802.2 L706.2 1737 L868.6 1737.4 L868.6 1802.2 L1681.5 1802.2" stroke="#6f5f1e" stroke-width="1.1" fill="none"/>
<symbol id="nov" viewBox="0 0 33 11" overflow="visible"><g fill="none" stroke="currentColor" stroke-width="0.95" stroke-linecap="square"><path d="M0.8 4.6 H10 M5.4 0.6 V10.2"/><path d="M11.8 5.4 H21.2"/><path d="M25.2 1.1 H31.2 V9.3 Q31.2 10.2 30.2 10.2 H29.4 M25.2 1.1 V6.4 Q25.2 9 23.4 10.3 M25.2 4 H31.2 M25.2 6.8 H31.2"/></g></symbol>
<text x="88.21" y="1822" font-size="11" fill="#666">1.</text><use href="#nov" x="100.79" y="1812.4" width="33" height="11" style="color:#666"/>
<text x="196.51" y="1822" font-size="11" fill="#666">3.</text><use href="#nov" x="209.09" y="1812.4" width="33" height="11" style="color:#666"/>
<text x="304.81" y="1822" font-size="11" fill="#666">5.</text><use href="#nov" x="317.39" y="1812.4" width="33" height="11" style="color:#666"/>
<text x="413.11" y="1822" font-size="11" fill="#666">7.</text><use href="#nov" x="425.69" y="1812.4" width="33" height="11" style="color:#666"/>
<text x="521.41" y="1822" font-size="11" fill="#666">9.</text><use href="#nov" x="533.99" y="1812.4" width="33" height="11" style="color:#666"/>
<text x="627.06" y="1822" font-size="11" fill="#666">11.</text><use href="#nov" x="644.94" y="1812.4" width="33" height="11" style="color:#666"/>
<text x="734.95" y="1822" font-size="11" fill="#666">13.</text><use href="#nov" x="753.65" y="1812.4" width="33" height="11" style="color:#666"/>
<text x="843.25" y="1822" font-size="11" fill="#666">15.</text><use href="#nov" x="861.95" y="1812.4" width="33" height="11" style="color:#666"/>
<text x="951.55" y="1822" font-size="11" fill="#666">17.</text><use href="#nov" x="970.25" y="1812.4" width="33" height="11" style="color:#666"/>
<text x="1059.85" y="1822" font-size="11" fill="#666">19.</text><use href="#nov" x="1078.55" y="1812.4" width="33" height="11" style="color:#666"/>
<text x="1168.15" y="1822" font-size="11" fill="#666">21.</text><use href="#nov" x="1186.85" y="1812.4" width="33" height="11" style="color:#666"/>
<text x="1276.45" y="1822" font-size="11" fill="#666">23.</text><use href="#nov" x="1295.15" y="1812.4" width="33" height="11" style="color:#666"/>
<text x="1384.75" y="1822" font-size="11" fill="#666">25.</text><use href="#nov" x="1403.45" y="1812.4" width="33" height="11" style="color:#666"/>
<text x="1493.05" y="1822" font-size="11" fill="#666">27.</text><use href="#nov" x="1511.75" y="1812.4" width="33" height="11" style="color:#666"/>
<text x="1601.35" y="1822" font-size="11" fill="#666">29.</text><use href="#nov" x="1620.05" y="1812.4" width="33" height="11" style="color:#666"/>
<text x="1705.2" y="1425.5" font-size="11" fill="#666" text-anchor="end">1000</text>
<text x="1705.2" y="1443.5" font-size="11" fill="#666" text-anchor="end">750</text>
<text x="1705.2" y="1460.5" font-size="11" fill="#666" text-anchor="end">500</text>
<text x="1705.2" y="1478.5" font-size="11" fill="#666" text-anchor="end">250</text>
<text x="1705.2" y="1495.5" font-size="11" fill="#666" text-anchor="end">0</text>
<text x="1705.2" y="1513.5" font-size="11" fill="#666" text-anchor="end">−250</text>
<text x="1705.2" y="1530.5" font-size="11" fill="#666" text-anchor="end">−500</text>
<text x="1705.2" y="1548.5" font-size="11" fill="#666" text-anchor="end">−750</text>
<text x="1705.2" y="1565.5" font-size="11" fill="#666" text-anchor="end">−1000</text>
<text x="1708.3" y="1645.4" font-size="11" fill="#666" text-anchor="end">−1000</text>
<text x="1708.3" y="1723.6" font-size="11" fill="#666" text-anchor="end">−1.2</text>
<text x="1708.3" y="1801.3" font-size="11" fill="#666" text-anchor="end">0</text>
<text transform="translate(1722.7,1490) rotate(90)" font-size="12" fill="#666" text-anchor="middle" textLength="20" lengthAdjust="spacing" y="4">PnL</text>
<text transform="translate(1722.7,1611) rotate(90)" font-size="12" fill="#666" text-anchor="middle" textLength="61" lengthAdjust="spacing" y="4">Period P&amp;L</text>
<text transform="translate(1722.7,1689) rotate(90)" font-size="12" fill="#666" text-anchor="middle" textLength="70" lengthAdjust="spacing" y="4">Vol/Position</text>
<text transform="translate(1722.7,1767) rotate(90)" font-size="12" fill="#666" text-anchor="middle" textLength="57" lengthAdjust="spacing" y="4">utilization</text>
<circle cx="560.2" cy="1823.3" r="6" fill="#7cb5ec"/><text x="573" y="1827.8999999999999" font-size="12" font-weight="bold" fill="#333" textLength="22" lengthAdjust="spacing">PnL</text>
<circle cx="622.4" cy="1823.3" r="6" fill="#90ed7d"/><text x="636.3" y="1827.8999999999999" font-size="12" font-weight="bold" fill="#333" textLength="66" lengthAdjust="spacing">Period P&amp;L</text>
<circle cx="730.4" cy="1823.3" r="6" fill="#f7a35c"/><text x="744.8" y="1827.8999999999999" font-size="12" font-weight="bold" fill="#333" textLength="58" lengthAdjust="spacing">Trade Vol</text>
<circle cx="831.1" cy="1823.3" r="6" fill="#8085e9"/><text x="844.5" y="1827.8999999999999" font-size="12" font-weight="bold" fill="#333" textLength="84" lengthAdjust="spacing">Position Long</text>
<circle cx="956.5" cy="1823.3" r="6" fill="#f15c80"/><text x="969.9" y="1827.8999999999999" font-size="12" font-weight="bold" fill="#333" textLength="86.5" lengthAdjust="spacing">Position Short</text>
<line x1="1076.9" y1="1823.3" x2="1092.9" y2="1823.3" stroke="#a89464" stroke-width="2"/>
<text x="1098" y="1827.8999999999999" font-size="12" font-weight="bold" fill="#333" textLength="100.5" lengthAdjust="spacing">Asset utilization</text>
<rect x="28.3" y="1849.4" width="1680" height="20.1" fill="#c8d3e6"/>
<line x1="28.3" y1="1849.4" x2="1708.3" y2="1849.4" stroke="#c2c6cc" stroke-width="1" shape-rendering="crispEdges"/><line x1="28.3" y1="1869.8" x2="1708.3" y2="1869.8" stroke="#c2c6cc" stroke-width="1" shape-rendering="crispEdges"/>
<line x1="84.3" y1="1849.9" x2="84.3" y2="1869" stroke="#d0d9ea" stroke-width="1" shape-rendering="crispEdges"/>
<text x="88.5" y="1864.8" font-size="11" fill="#a9b4c8">1.</text><use href="#nov" x="101.07" y="1855.2" width="33" height="11" style="color:#a9b4c8"/>
<line x1="196.35" y1="1849.9" x2="196.35" y2="1869" stroke="#d0d9ea" stroke-width="1" shape-rendering="crispEdges"/>
<text x="200.55" y="1864.8" font-size="11" fill="#a9b4c8">3.</text><use href="#nov" x="213.12" y="1855.2" width="33" height="11" style="color:#a9b4c8"/>
<line x1="308.4" y1="1849.9" x2="308.4" y2="1869" stroke="#d0d9ea" stroke-width="1" shape-rendering="crispEdges"/>
<text x="312.6" y="1864.8" font-size="11" fill="#a9b4c8">5.</text><use href="#nov" x="325.17" y="1855.2" width="33" height="11" style="color:#a9b4c8"/>
<line x1="420.45" y1="1849.9" x2="420.45" y2="1869" stroke="#d0d9ea" stroke-width="1" shape-rendering="crispEdges"/>
<text x="424.65" y="1864.8" font-size="11" fill="#a9b4c8">7.</text><use href="#nov" x="437.22" y="1855.2" width="33" height="11" style="color:#a9b4c8"/>
<line x1="532.5" y1="1849.9" x2="532.5" y2="1869" stroke="#d0d9ea" stroke-width="1" shape-rendering="crispEdges"/>
<text x="536.7" y="1864.8" font-size="11" fill="#a9b4c8">9.</text><use href="#nov" x="549.27" y="1855.2" width="33" height="11" style="color:#a9b4c8"/>
<line x1="644.55" y1="1849.9" x2="644.55" y2="1869" stroke="#d0d9ea" stroke-width="1" shape-rendering="crispEdges"/>
<text x="648.75" y="1864.8" font-size="11" fill="#a9b4c8">11.</text><use href="#nov" x="666.63" y="1855.2" width="33" height="11" style="color:#a9b4c8"/>
<line x1="756.6" y1="1849.9" x2="756.6" y2="1869" stroke="#d0d9ea" stroke-width="1" shape-rendering="crispEdges"/>
<text x="760.8" y="1864.8" font-size="11" fill="#a9b4c8">13.</text><use href="#nov" x="779.49" y="1855.2" width="33" height="11" style="color:#a9b4c8"/>
<line x1="868.65" y1="1849.9" x2="868.65" y2="1869" stroke="#d0d9ea" stroke-width="1" shape-rendering="crispEdges"/>
<text x="872.85" y="1864.8" font-size="11" fill="#a9b4c8">15.</text><use href="#nov" x="891.54" y="1855.2" width="33" height="11" style="color:#a9b4c8"/>
<line x1="980.7" y1="1849.9" x2="980.7" y2="1869" stroke="#d0d9ea" stroke-width="1" shape-rendering="crispEdges"/>
<text x="984.9" y="1864.8" font-size="11" fill="#a9b4c8">17.</text><use href="#nov" x="1003.59" y="1855.2" width="33" height="11" style="color:#a9b4c8"/>
<line x1="1092.75" y1="1849.9" x2="1092.75" y2="1869" stroke="#d0d9ea" stroke-width="1" shape-rendering="crispEdges"/>
<text x="1096.95" y="1864.8" font-size="11" fill="#a9b4c8">19.</text><use href="#nov" x="1115.64" y="1855.2" width="33" height="11" style="color:#a9b4c8"/>
<line x1="1204.8" y1="1849.9" x2="1204.8" y2="1869" stroke="#d0d9ea" stroke-width="1" shape-rendering="crispEdges"/>
<text x="1209" y="1864.8" font-size="11" fill="#a9b4c8">21.</text><use href="#nov" x="1227.69" y="1855.2" width="33" height="11" style="color:#a9b4c8"/>
<line x1="1316.85" y1="1849.9" x2="1316.85" y2="1869" stroke="#d0d9ea" stroke-width="1" shape-rendering="crispEdges"/>
<text x="1321.05" y="1864.8" font-size="11" fill="#a9b4c8">23.</text><use href="#nov" x="1339.74" y="1855.2" width="33" height="11" style="color:#a9b4c8"/>
<line x1="1428.9" y1="1849.9" x2="1428.9" y2="1869" stroke="#d0d9ea" stroke-width="1" shape-rendering="crispEdges"/>
<text x="1433.1" y="1864.8" font-size="11" fill="#a9b4c8">25.</text><use href="#nov" x="1451.79" y="1855.2" width="33" height="11" style="color:#a9b4c8"/>
<line x1="1540.95" y1="1849.9" x2="1540.95" y2="1869" stroke="#d0d9ea" stroke-width="1" shape-rendering="crispEdges"/>
<text x="1545.15" y="1864.8" font-size="11" fill="#a9b4c8">27.</text><use href="#nov" x="1563.84" y="1855.2" width="33" height="11" style="color:#a9b4c8"/>
<line x1="1653" y1="1849.9" x2="1653" y2="1869" stroke="#d0d9ea" stroke-width="1" shape-rendering="crispEdges"/>
<text x="1657.2" y="1864.8" font-size="11" fill="#a9b4c8">29.</text><use href="#nov" x="1675.89" y="1855.2" width="33" height="11" style="color:#a9b4c8"/>
<rect x="24" y="1851.5" width="9" height="15.5" rx="1" fill="#f5f5f5" stroke="#a0a0a0" stroke-width="1"/>
<path d="M27.5 1855.5 V1863 M29.5 1855.5 V1863" stroke="#999" stroke-width="0.9"/>
<rect x="1703.5" y="1851.5" width="9" height="15.5" rx="1" fill="#f5f5f5" stroke="#a0a0a0" stroke-width="1"/>
<path d="M1707 1855.5 V1863 M1709 1855.5 V1863" stroke="#999" stroke-width="0.9"/>
</svg>
</div></body></html>
